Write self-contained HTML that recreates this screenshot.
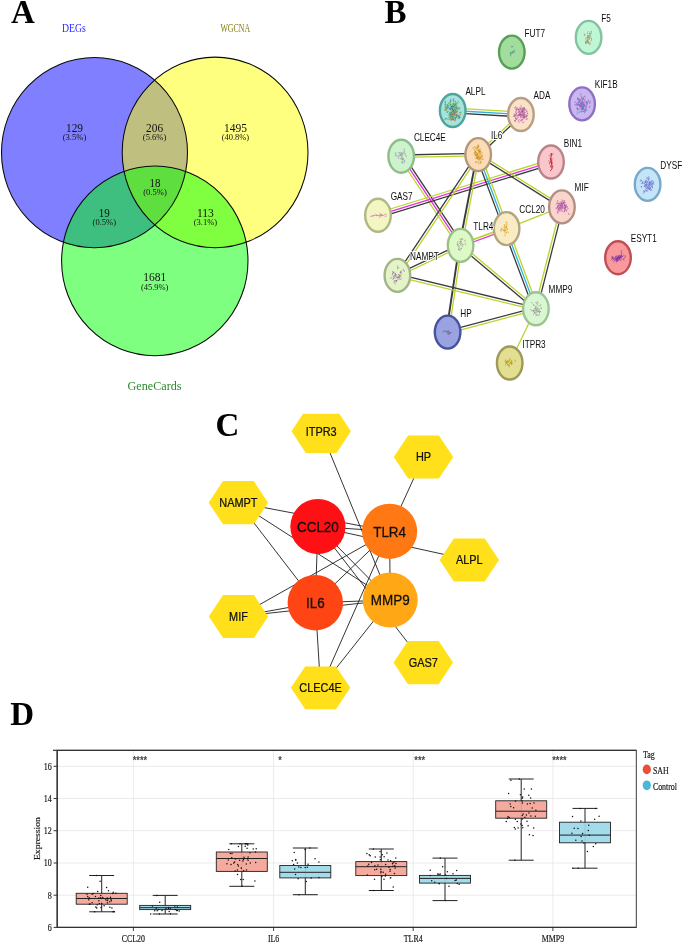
<!DOCTYPE html><html><head><meta charset="utf-8"><title>Figure</title><style>html,body{margin:0;padding:0;background:#fff}svg{display:block}text{font-family:"Liberation Sans",sans-serif}.s{font-family:"Liberation Serif",serif}.b{font-family:"Liberation Serif",serif;font-weight:bold;font-size:33px;fill:#000}</style></head><body>
<svg width="685" height="943" viewBox="0 0 685 943">
<rect width="685" height="943" fill="#fff"/>
<text class="b" x="11.0" y="22.8">A</text>
<text class="b" x="384.4" y="22.8">B</text>
<text class="b" x="215.5" y="435.7">C</text>
<text class="b" x="10.3" y="724.9">D</text>
<g id="venn">
<ellipse cx="94.5" cy="152.6" rx="93" ry="95.1" fill="#0000ff" fill-opacity="0.5"/>
<ellipse cx="215.1" cy="152.4" rx="92.9" ry="95.3" fill="#ffff00" fill-opacity="0.5"/>
<ellipse cx="154.8" cy="260.9" rx="93.2" ry="94.8" fill="#00ff00" fill-opacity="0.5"/>
<ellipse cx="94.5" cy="152.6" rx="93" ry="95.1" fill="none" stroke="#0a0a0a" stroke-width="1.05"/>
<ellipse cx="215.1" cy="152.4" rx="92.9" ry="95.3" fill="none" stroke="#0a0a0a" stroke-width="1.05"/>
<ellipse cx="154.8" cy="260.9" rx="93.2" ry="94.8" fill="none" stroke="#0a0a0a" stroke-width="1.05"/>
<text class="s" x="74" y="32.4" font-size="12" fill="#2a2aff" text-anchor="middle" textLength="23.8" lengthAdjust="spacingAndGlyphs">DEGs</text>
<text class="s" x="235.3" y="32.4" font-size="12" fill="#857d10" text-anchor="middle" textLength="29.8" lengthAdjust="spacingAndGlyphs">WGCNA</text>
<text class="s" x="154.5" y="390.3" font-size="12" fill="#2a8a2a" text-anchor="middle" textLength="54" lengthAdjust="spacingAndGlyphs">GeneCards</text>
<text class="s" x="74.5" y="132" font-size="12" fill="#111" text-anchor="middle" textLength="17" lengthAdjust="spacingAndGlyphs">129</text>
<text class="s" x="74.5" y="140.3" font-size="8" fill="#111" text-anchor="middle" textLength="23.5" lengthAdjust="spacingAndGlyphs">(3.5%)</text>
<text class="s" x="154.6" y="132" font-size="12" fill="#111" text-anchor="middle" textLength="17" lengthAdjust="spacingAndGlyphs">206</text>
<text class="s" x="154.6" y="140.3" font-size="8" fill="#111" text-anchor="middle" textLength="23.5" lengthAdjust="spacingAndGlyphs">(5.6%)</text>
<text class="s" x="235.4" y="132" font-size="12" fill="#111" text-anchor="middle" textLength="23" lengthAdjust="spacingAndGlyphs">1495</text>
<text class="s" x="235.4" y="140.3" font-size="8" fill="#111" text-anchor="middle" textLength="27.5" lengthAdjust="spacingAndGlyphs">(40.8%)</text>
<text class="s" x="155" y="187.1" font-size="12" fill="#111" text-anchor="middle" textLength="11" lengthAdjust="spacingAndGlyphs">18</text>
<text class="s" x="155" y="195.4" font-size="8" fill="#111" text-anchor="middle" textLength="23.5" lengthAdjust="spacingAndGlyphs">(0.5%)</text>
<text class="s" x="104.3" y="217" font-size="12" fill="#111" text-anchor="middle" textLength="11" lengthAdjust="spacingAndGlyphs">19</text>
<text class="s" x="104.3" y="225.3" font-size="8" fill="#111" text-anchor="middle" textLength="23.5" lengthAdjust="spacingAndGlyphs">(0.5%)</text>
<text class="s" x="205.4" y="217" font-size="12" fill="#111" text-anchor="middle" textLength="17" lengthAdjust="spacingAndGlyphs">113</text>
<text class="s" x="205.4" y="225.3" font-size="8" fill="#111" text-anchor="middle" textLength="23.5" lengthAdjust="spacingAndGlyphs">(3.1%)</text>
<text class="s" x="154.7" y="281.2" font-size="12" fill="#111" text-anchor="middle" textLength="23" lengthAdjust="spacingAndGlyphs">1681</text>
<text class="s" x="154.7" y="289.5" font-size="8" fill="#111" text-anchor="middle" textLength="27.5" lengthAdjust="spacingAndGlyphs">(45.9%)</text>
</g>
<g id="string">
<line x1="452.8" y1="108.1" x2="521.0" y2="112.1" stroke="#bad42c" stroke-width="1.3"/>
<line x1="452.7" y1="110.5" x2="520.9" y2="114.5" stroke="#2bb3e3" stroke-width="1.3"/>
<line x1="452.6" y1="112.9" x2="520.8" y2="116.9" stroke="#3a3a3a" stroke-width="1.3"/>
<line x1="521.7" y1="115.4" x2="479.0" y2="155.5" stroke="#3a3a3a" stroke-width="1.3"/>
<line x1="520.1" y1="113.6" x2="477.4" y2="153.7" stroke="#bad42c" stroke-width="1.3"/>
<line x1="478.2" y1="155.8" x2="401.2" y2="157.4" stroke="#bad42c" stroke-width="1.3"/>
<line x1="478.2" y1="153.4" x2="401.2" y2="155.0" stroke="#3a3a3a" stroke-width="1.3"/>
<line x1="403.2" y1="154.9" x2="462.6" y2="244.1" stroke="#3a3a3a" stroke-width="1.3"/>
<line x1="401.2" y1="156.2" x2="460.6" y2="245.4" stroke="#e02fe0" stroke-width="1.3"/>
<line x1="399.2" y1="157.5" x2="458.6" y2="246.7" stroke="#bad42c" stroke-width="1.3"/>
<line x1="551.7" y1="164.3" x2="378.7" y2="217.6" stroke="#3a3a3a" stroke-width="1.3"/>
<line x1="551.0" y1="162.0" x2="378.0" y2="215.3" stroke="#e02fe0" stroke-width="1.3"/>
<line x1="550.3" y1="159.7" x2="377.3" y2="213.0" stroke="#bad42c" stroke-width="1.3"/>
<line x1="479.2" y1="155.3" x2="398.4" y2="276.1" stroke="#bad42c" stroke-width="1.3"/>
<line x1="477.2" y1="153.9" x2="396.4" y2="274.7" stroke="#3a3a3a" stroke-width="1.3"/>
<line x1="461.8" y1="245.6" x2="448.8" y2="332.3" stroke="#bad42c" stroke-width="1.3"/>
<line x1="459.4" y1="245.2" x2="446.4" y2="331.9" stroke="#3a3a3a" stroke-width="1.9"/>
<line x1="479.4" y1="154.8" x2="461.8" y2="245.6" stroke="#bad42c" stroke-width="1.3"/>
<line x1="477.0" y1="154.4" x2="459.4" y2="245.2" stroke="#3a3a3a" stroke-width="1.9"/>
<line x1="480.4" y1="153.8" x2="538.1" y2="308.0" stroke="#bad42c" stroke-width="1.3"/>
<line x1="478.2" y1="154.6" x2="535.9" y2="308.8" stroke="#2bb3e3" stroke-width="1.3"/>
<line x1="476.0" y1="155.4" x2="533.7" y2="309.6" stroke="#3a3a3a" stroke-width="1.3"/>
<line x1="478.8" y1="153.6" x2="562.5" y2="205.9" stroke="#bad42c" stroke-width="1.3"/>
<line x1="477.6" y1="155.6" x2="561.3" y2="207.9" stroke="#3a3a3a" stroke-width="1.3"/>
<line x1="506.6" y1="228.6" x2="561.9" y2="206.9" stroke="#bad42c" stroke-width="1.3"/>
<line x1="507.0" y1="229.7" x2="461.0" y2="246.5" stroke="#e02fe0" stroke-width="1.3"/>
<line x1="506.2" y1="227.5" x2="460.2" y2="244.3" stroke="#bad42c" stroke-width="1.8"/>
<line x1="563.1" y1="207.2" x2="537.1" y2="309.1" stroke="#3a3a3a" stroke-width="1.3"/>
<line x1="560.7" y1="206.6" x2="534.7" y2="308.5" stroke="#bad42c" stroke-width="1.3"/>
<line x1="461.4" y1="244.5" x2="536.7" y2="307.9" stroke="#bad42c" stroke-width="1.3"/>
<line x1="459.8" y1="246.3" x2="535.1" y2="309.7" stroke="#3a3a3a" stroke-width="1.3"/>
<line x1="461.1" y1="246.5" x2="397.9" y2="276.5" stroke="#bad42c" stroke-width="1.3"/>
<line x1="460.1" y1="244.3" x2="396.9" y2="274.3" stroke="#3a3a3a" stroke-width="1.3"/>
<line x1="397.7" y1="274.2" x2="536.2" y2="307.6" stroke="#3a3a3a" stroke-width="1.3"/>
<line x1="397.1" y1="276.6" x2="535.6" y2="310.0" stroke="#bad42c" stroke-width="1.3"/>
<line x1="447.3" y1="330.9" x2="535.6" y2="307.6" stroke="#3a3a3a" stroke-width="1.3"/>
<line x1="447.9" y1="333.3" x2="536.2" y2="310.0" stroke="#bad42c" stroke-width="1.3"/>
<line x1="535.9" y1="308.8" x2="509.7" y2="363.0" stroke="#bad42c" stroke-width="1.3"/>
<ellipse cx="511.8" cy="52.1" rx="12.8" ry="16.5" fill="#a3dc9f" stroke="#57a054" stroke-width="2.4"/>
<path d="M511.1 53.7L510.1 52.2L511.3 53.1L511.1 54.1M514.2 50.5L514.5 49.8L514.1 51.3L514.8 52.5" fill="none" stroke="#2f7f8f" stroke-width="0.7" stroke-opacity="0.8" stroke-linejoin="round"/>
<path d="M511.3 52.2L512.4 51.3L513.3 52.3L512.2 51.8M512.4 53.4L512.7 53.0L513.6 52.4L512.7 52.8" fill="none" stroke="#2a6aa0" stroke-width="0.7" stroke-opacity="0.8" stroke-linejoin="round"/>
<path d="M513.1 47.1L512.3 46.1L511.8 47.3L511.8 45.7M510.8 56.3L510.5 55.1L511.1 55.0L510.2 53.3" fill="none" stroke="#3d9a5a" stroke-width="0.7" stroke-opacity="0.8" stroke-linejoin="round"/>
<ellipse cx="588.6" cy="37.4" rx="12.8" ry="16.5" fill="#bff7d6" stroke="#83c39d" stroke-width="2.4"/>
<path d="M587.8 41.1L587.4 40.1L588.1 38.7L587.2 39.1M585.1 34.0L584.4 35.5L584.7 34.3L583.8 33.8M590.9 41.4L591.2 40.7L591.5 39.1L591.3 37.4M587.5 41.5L587.8 41.8L587.5 41.8L586.6 40.4M589.6 43.7L589.9 42.6L590.2 43.9L589.7 45.2M588.3 42.0L587.6 42.0L588.2 43.3L589.1 43.6M589.7 37.3L588.9 38.5L590.1 38.7L589.0 39.1M588.3 36.6L588.3 37.2L588.9 37.4L588.4 36.9" fill="none" stroke="#a8703c" stroke-width="0.7" stroke-opacity="0.8" stroke-linejoin="round"/>
<path d="M589.8 35.4L590.0 34.0L590.9 33.0L592.0 33.2M587.9 38.0L588.4 37.8L587.5 36.4L587.4 37.5M589.5 36.5L590.2 35.3L590.3 36.7L589.5 36.4M588.1 40.7L588.4 41.0L588.8 42.5L588.5 42.8M589.1 35.0L588.3 36.1L587.9 35.5L587.0 35.1M586.9 42.1L586.6 40.8L585.7 41.5L585.3 42.2M586.6 42.4L585.7 43.8L585.5 42.2L586.7 43.4" fill="none" stroke="#8c6a4a" stroke-width="0.7" stroke-opacity="0.8" stroke-linejoin="round"/>
<path d="M588.8 39.2L588.2 40.3L587.6 41.4L587.0 41.4M589.5 34.1L589.7 32.6L589.0 33.7L589.0 33.7M591.3 30.9L591.6 32.1L590.8 31.6L591.3 31.1M588.1 34.1L587.2 32.8L588.4 31.4L588.4 32.1M585.0 38.2L586.1 38.2L586.2 39.2L585.3 40.4M588.4 37.0L587.3 37.3L587.4 38.1L586.9 37.1M585.9 42.2L587.1 41.8L587.7 41.7L586.8 43.2" fill="none" stroke="#b58a60" stroke-width="0.7" stroke-opacity="0.8" stroke-linejoin="round"/>
<ellipse cx="452.7" cy="110.5" rx="12.8" ry="16.5" fill="#a5e3dc" stroke="#4fa59d" stroke-width="2.4"/>
<path d="M452.7 108.7L452.4 110.0L452.8 109.2L453.4 109.3M449.7 111.8L450.9 112.3L449.9 112.7L448.7 113.6M452.3 109.6L452.1 108.4L452.2 109.0L452.5 108.9M458.5 101.5L458.4 102.0L457.7 101.4L457.8 101.4M454.2 106.4L454.3 107.0L454.8 108.2L455.5 109.4M453.9 107.7L453.2 106.2L453.1 105.5L452.0 104.3M452.3 102.8L452.9 103.4L454.1 103.8L453.3 105.2M450.7 110.7L449.7 109.9L449.6 109.4L448.9 109.0M455.0 108.2L455.1 107.1L455.2 107.2L455.4 107.8M459.7 112.5L460.7 112.3L461.3 112.6L460.7 111.7M455.0 105.0L456.2 103.8L457.1 102.9L457.6 102.1M456.2 111.5L455.6 111.0L454.5 111.1L454.8 111.8M452.3 116.8L452.8 115.7L452.3 114.6L453.2 115.6M445.7 119.5L445.7 118.5L444.5 119.4L443.6 120.6M456.2 109.2L456.1 107.7L456.8 108.6L457.9 107.9M453.0 107.7L452.0 106.1L451.9 106.5L451.8 107.8M445.7 103.8L444.7 105.1L445.7 105.6L445.7 104.2M456.0 117.0L456.7 115.9L455.9 117.6L456.9 117.6M445.7 110.1L445.8 109.2L446.5 109.2L446.3 107.6M456.7 106.4L456.4 106.2L456.4 105.7L455.5 105.3M458.9 109.4L458.8 108.5L458.6 108.7L458.9 107.2M456.5 109.0L456.8 107.6L457.6 107.9L457.5 107.5M450.4 105.0L450.0 104.0L449.9 104.2L451.2 104.5M450.2 116.0L450.7 115.6L450.1 114.1L450.3 112.9M448.5 114.8L448.7 115.0L448.8 115.0L448.4 115.3M459.4 117.4L458.4 118.2L459.4 118.6L460.7 117.0" fill="none" stroke="#2f9a4a" stroke-width="0.7" stroke-opacity="0.8" stroke-linejoin="round"/>
<path d="M452.5 108.4L453.1 107.8L452.1 109.4L453.2 110.8M446.5 112.0L447.6 112.5L447.2 111.5L446.9 112.6M458.6 109.1L459.3 108.1L459.1 108.2L459.0 108.8M455.1 103.3L455.7 102.4L455.1 104.0L455.5 105.4M458.8 115.0L459.6 116.7L459.3 117.8L459.5 116.7M450.1 108.6L449.9 108.4L450.7 109.2L450.0 110.0M456.8 112.8L456.1 112.3L456.2 111.6L455.2 110.1M455.8 114.7L457.1 115.8L457.1 114.5L455.8 114.9M446.9 104.9L447.9 104.9L447.1 104.8L446.8 106.1M449.4 102.3L450.2 101.6L450.5 101.1L449.9 101.0M455.7 113.1L456.9 111.4L457.1 112.1L457.2 110.6M451.3 117.0L450.9 117.9L450.3 116.4L449.2 115.8M457.3 115.0L456.7 114.4L456.4 115.7L457.4 116.2M454.3 106.4L455.0 105.0L454.1 104.3L453.3 102.8M445.7 106.8L444.7 107.3L444.8 107.1L445.6 107.1M453.3 107.3L453.1 106.4L453.6 106.6L452.7 107.6M459.6 115.7L458.4 116.6L457.2 115.8L458.3 115.7M450.4 107.1L449.9 106.8L450.4 107.2L451.2 108.6M452.2 108.8L451.0 109.2L449.7 109.1L450.0 109.0M451.6 113.1L451.8 111.5L452.2 110.0L453.4 110.3M452.1 114.4L452.0 114.5L451.2 115.5L452.0 115.1M451.3 117.0L452.0 116.1L452.9 117.3L453.6 116.8M455.4 108.9L456.5 108.8L457.0 110.3L457.6 110.7M452.3 115.0L451.7 115.2L451.5 115.8L451.5 114.6M449.4 112.8L449.9 114.2L450.5 115.9L451.3 117.1M447.6 119.5L447.5 118.9L446.3 118.4L445.2 118.6" fill="none" stroke="#2a8aa0" stroke-width="0.7" stroke-opacity="0.8" stroke-linejoin="round"/>
<path d="M451.4 109.0L451.9 107.8L451.1 107.0L451.4 107.2M448.1 107.6L448.0 106.2L448.4 105.4L447.5 105.2M455.8 109.7L454.6 109.8L454.5 108.8L454.4 109.4M453.6 107.1L453.1 105.6L452.1 106.3L452.1 105.3M445.7 102.7L444.9 103.3L445.3 102.4L445.3 100.8M453.4 111.7L453.9 110.2L452.7 111.5L451.5 112.5M450.3 112.5L451.2 113.7L451.6 113.7L451.7 114.0M452.9 112.4L453.1 112.8L454.2 113.2L453.5 111.5M451.8 119.5L451.7 119.8L450.5 118.9L450.9 119.2M453.7 101.5L453.2 100.0L453.6 98.7L454.2 98.7M453.7 119.5L454.1 118.0L455.2 117.5L455.4 118.5M453.3 115.3L454.0 113.8L453.5 113.0L453.7 113.5M451.8 113.6L451.0 114.6L450.8 114.8L451.4 113.2M450.4 101.5L451.1 100.1L450.5 99.7L451.1 99.1M445.7 108.3L446.9 107.4L446.9 107.2L447.9 108.7M452.0 107.0L450.9 106.3L452.1 106.9L450.8 106.8M452.5 108.2L453.0 109.5L453.6 110.7L453.3 109.6M454.9 117.0L455.3 118.6L455.6 120.1L454.5 120.4M449.7 108.3L450.5 109.0L449.5 108.2L448.3 107.2M453.5 119.5L453.2 119.2L451.9 118.3L451.7 119.8M454.1 112.3L454.8 112.7L454.5 112.1L453.4 110.5M453.9 119.5L453.2 120.0L452.4 118.4L453.2 116.8M451.0 106.4L450.2 105.3L450.4 104.9L449.9 105.0M451.2 112.4L452.0 112.9L452.7 114.4L453.2 114.9M458.9 115.9L458.0 116.4L459.0 117.5L459.9 118.2M456.2 113.6L455.2 112.7L454.4 114.2L454.7 115.7" fill="none" stroke="#3a5ac0" stroke-width="0.7" stroke-opacity="0.8" stroke-linejoin="round"/>
<path d="M451.1 108.0L451.6 107.3L452.9 108.9L453.0 109.9M452.4 113.9L452.0 114.5L453.1 114.5L452.7 113.0M455.7 107.5L456.7 108.0L456.2 106.7L455.3 106.3M457.5 110.8L458.3 109.4L459.5 107.8L460.3 108.5M449.6 103.6L450.6 103.1L450.1 102.0L451.4 100.8M454.8 107.7L453.6 106.5L452.8 104.9L453.8 103.3M451.3 115.0L452.3 116.0L451.9 117.4L451.7 116.0M450.5 105.0L451.0 105.3L450.5 104.0L451.4 103.4M453.7 113.0L454.2 114.0L454.3 113.2L453.7 112.7M446.7 110.3L446.4 108.6L446.1 108.1L446.9 109.5M458.8 113.6L459.8 112.0L459.9 112.1L460.2 113.2M452.1 116.0L452.3 117.5L453.3 119.0L453.0 118.3M455.3 106.6L454.9 105.1L454.7 103.9L455.6 105.6M452.0 112.4L451.2 114.0L451.0 114.3L451.0 115.6M454.4 105.6L453.9 104.6L454.6 104.7L454.7 105.9M454.0 115.7L453.7 117.1L453.4 116.7L452.8 116.3M448.8 114.6L449.8 114.9L451.0 116.2L450.7 117.6M456.0 108.5L456.6 108.5L455.8 109.7L455.0 111.1M458.4 103.6L457.8 103.8L456.6 104.0L455.7 105.5M449.5 103.0L448.9 104.3L448.3 103.1L449.4 102.3M449.6 116.8L449.8 117.5L448.6 118.0L449.0 116.4M454.3 106.4L454.5 105.6L454.8 105.9L453.7 104.6M448.4 105.4L447.4 106.5L446.2 106.8L445.1 107.7M446.9 108.3L448.1 108.2L447.3 106.8L447.0 107.0M455.2 105.0L454.4 105.8L454.9 104.7L455.3 103.9M451.4 112.9L452.0 113.7L451.8 112.1L452.6 110.9" fill="none" stroke="#58b040" stroke-width="0.7" stroke-opacity="0.8" stroke-linejoin="round"/>
<path d="M449.7 108.9L448.4 107.8L447.5 106.5L447.6 105.6M452.6 113.4L453.2 114.3L453.3 113.7L453.4 115.1M459.1 115.1L459.7 115.5L460.7 114.0L460.6 115.2M455.8 111.3L456.2 110.6L455.8 111.6L456.9 112.8M451.8 115.4L451.5 116.3L451.9 117.9L452.0 118.4M451.6 119.5L451.5 120.7L451.0 120.8L450.6 119.5M446.3 109.7L445.0 110.8L444.1 109.6L445.0 110.7M452.1 114.2L452.1 114.9L451.1 115.8L451.9 115.7M455.9 116.5L456.6 117.2L457.5 118.6L456.8 117.9M453.7 116.0L453.4 116.7L454.1 116.3L454.4 116.1M457.5 113.2L457.0 113.9L456.1 115.3L456.1 116.2M455.3 115.3L454.5 115.0L455.7 114.6L455.2 114.8M456.6 106.0L456.0 107.5L456.8 106.7L456.8 105.5M452.6 119.5L452.6 120.1L452.7 119.6L453.2 118.0M445.7 109.8L444.7 109.7L446.0 108.6L446.9 107.2M454.4 113.0L455.3 111.6L455.6 112.8L454.3 113.3M449.3 119.5L448.9 119.7L449.7 118.6L448.6 120.0M452.2 113.7L452.6 114.1L452.2 114.9L452.3 115.5M450.6 119.5L450.5 118.4L449.6 118.6L449.7 119.0M454.6 119.5L455.1 121.2L454.6 120.8L453.5 119.7M453.1 101.8L454.4 101.4L455.2 100.8L456.0 102.2M450.4 115.0L449.1 115.4L450.3 114.8L450.8 115.4M448.0 112.3L448.5 111.5L447.8 110.6L447.2 111.8M455.5 116.2L455.0 114.8L454.9 113.4L454.9 113.1M452.4 112.0L452.2 110.4L452.2 110.3L453.1 109.9M453.7 114.4L453.7 114.6L454.0 113.7L454.7 114.6" fill="none" stroke="#c07a30" stroke-width="0.7" stroke-opacity="0.8" stroke-linejoin="round"/>
<ellipse cx="520.9" cy="114.5" rx="12.8" ry="16.5" fill="#f9e2c8" stroke="#b89e84" stroke-width="2.4"/>
<path d="M525.1 115.8L524.2 117.4L523.5 118.3L524.5 116.8M521.0 120.7L521.2 120.1L522.4 118.9L521.2 119.8M515.5 111.4L516.5 110.3L516.5 110.8L515.5 112.3M515.1 121.5L515.0 120.8L516.0 120.5L516.4 118.8M523.3 116.0L522.5 114.9L521.6 114.6L522.3 114.1M519.1 111.9L519.5 113.3L520.2 115.0L520.7 114.2M521.7 117.0L521.8 116.9L520.9 116.4L519.9 116.9M524.0 107.5L525.0 108.9L523.7 108.3L524.5 109.6M523.2 116.7L523.6 115.7L523.7 115.2L523.3 115.9M524.2 116.5L524.9 117.1L526.2 116.1L526.6 116.3M514.5 115.2L515.0 115.4L513.9 116.9L513.7 116.3M521.5 112.1L522.1 110.7L522.9 111.9L523.0 110.9M517.5 114.9L517.5 116.1L518.3 116.8L519.2 117.0M524.3 121.5L523.3 122.8L522.5 122.7L523.0 122.9M516.0 115.3L516.0 115.6L515.8 114.2L516.7 112.7M524.3 110.6L523.6 110.7L523.3 110.5L522.2 109.3M523.8 110.1L522.5 108.6L523.6 108.6L523.7 107.5M519.9 115.5L521.0 116.8L521.3 117.9L521.2 117.9M513.9 114.5L514.8 115.4L513.8 115.5L514.8 117.2M518.3 110.5L519.0 109.4L519.4 110.4L518.6 110.2M526.1 116.8L526.8 115.3L526.2 114.7L526.9 116.1M519.1 111.4L520.1 111.6L520.4 112.5L519.8 113.5M520.9 116.1L521.8 115.5L521.6 113.9L522.8 115.5M519.9 113.2L519.8 114.2L520.7 114.9L520.6 113.3M515.3 116.0L515.6 115.4L516.2 115.3L515.0 116.7M520.7 112.8L520.3 112.8L520.8 112.0L521.7 110.5M522.4 111.9L523.3 110.4L524.5 109.2L524.2 107.7" fill="none" stroke="#b04aa0" stroke-width="0.7" stroke-opacity="0.8" stroke-linejoin="round"/>
<path d="M520.5 114.2L520.3 115.3L520.2 114.5L520.2 115.9M525.2 116.3L523.9 117.0L522.7 115.5L521.8 115.5M520.9 110.8L520.9 109.6L522.2 109.9L521.6 109.3M525.5 109.0L525.5 109.7L526.4 109.4L525.8 110.4M525.7 114.8L526.3 116.1L527.6 115.4L526.3 115.4M516.5 112.9L516.5 112.8L515.6 112.6L515.1 112.2M522.8 107.5L522.2 108.2L523.3 109.0L522.8 107.8M525.5 119.4L524.5 118.0L523.6 118.8L523.8 118.9M522.9 109.5L522.7 110.8L523.3 110.8L523.3 111.2M518.6 108.7L518.6 109.9L519.1 109.7L518.7 109.3M516.0 107.9L516.6 108.3L516.7 107.5L517.7 107.8M516.2 108.7L516.3 110.2L515.8 108.8L516.4 110.2M518.9 111.7L519.2 110.6L520.2 109.7L520.7 110.5M514.4 113.5L514.0 114.6L515.1 115.3L513.8 116.7M525.7 109.6L526.2 111.1L527.2 112.3L527.7 111.3M524.5 111.7L525.4 112.9L526.7 111.4L527.0 110.8M515.2 120.4L514.0 120.6L515.3 121.5L515.6 122.3M522.0 107.9L520.9 106.2L521.3 104.9L521.2 104.8M519.4 113.8L520.4 115.5L520.3 114.4L519.0 113.2M521.3 108.7L520.5 108.5L520.9 107.8L520.2 108.6M523.9 113.1L524.1 113.8L524.1 114.2L525.2 114.5M515.5 108.5L514.6 108.2L515.8 106.5L514.6 107.9M520.7 118.0L520.5 118.0L520.8 118.1L519.9 118.0M526.4 114.8L526.9 116.3L526.6 117.6L526.5 117.9M522.7 118.9L522.5 120.4L522.9 120.3L522.7 118.9M521.4 121.5L520.5 119.8L521.7 121.0L521.2 121.7M519.8 115.0L519.5 113.8L520.1 115.3L521.0 114.0" fill="none" stroke="#c060b0" stroke-width="0.7" stroke-opacity="0.8" stroke-linejoin="round"/>
<path d="M520.6 113.1L521.8 113.0L521.6 112.7L521.9 112.5M524.8 115.1L523.9 114.7L523.4 113.8L524.7 112.6M517.1 113.1L515.8 114.1L516.6 114.1L516.3 114.4M527.9 113.8L527.5 113.0L527.0 113.3L528.2 114.3M523.5 111.7L524.5 112.9L524.0 112.7L524.1 112.8M522.9 113.4L522.0 112.0L522.5 112.3L522.8 111.1M522.8 113.0L523.9 111.6L524.6 110.7L525.2 110.8M515.8 119.9L517.0 118.6L516.4 119.0L515.5 118.1M521.4 109.3L520.7 109.6L520.6 107.9L519.3 107.6M522.1 114.8L522.8 113.3L523.5 114.8L523.8 114.7M519.5 108.6L518.4 109.9L518.7 109.3L518.1 109.3M522.4 117.0L523.4 116.2L523.2 117.7L522.1 117.2M517.2 116.7L516.7 116.6L517.5 118.3L516.9 119.3M518.5 112.7L518.8 111.4L518.5 112.4L517.4 112.1M519.6 119.5L518.6 119.9L518.8 121.3L519.0 122.9M521.0 116.1L521.3 114.7L521.1 114.7L520.6 113.8M517.6 114.0L518.7 114.9L518.5 115.7L519.4 115.4M526.0 116.7L525.9 117.3L525.0 116.8L524.4 116.5M524.2 117.4L524.1 117.9L524.6 116.7L523.7 116.7M521.7 111.4L522.9 109.7L523.7 108.9L524.4 107.4M519.5 115.2L518.4 115.6L518.9 114.2L519.3 115.6M524.5 115.7L525.0 114.1L524.5 113.8L524.1 114.5M515.1 117.1L515.3 117.4L515.9 118.5L515.2 118.1M516.9 108.5L517.8 109.7L517.3 108.5L516.7 109.1M522.6 110.4L522.3 111.2L521.4 111.7L521.1 111.3M526.3 118.8L527.3 118.6L526.8 119.9L526.3 119.4" fill="none" stroke="#9a4a90" stroke-width="0.7" stroke-opacity="0.8" stroke-linejoin="round"/>
<ellipse cx="582.1" cy="103.9" rx="12.8" ry="16.5" fill="#cbb6f0" stroke="#8f6fc4" stroke-width="2.4"/>
<path d="M579.3 101.7L579.6 101.2L579.9 99.7L580.4 99.9M585.9 96.4L585.1 96.0L584.1 96.5L583.9 96.5M576.3 102.8L575.6 101.9L575.4 102.5L574.8 101.5M577.2 110.1L578.4 109.1L577.3 108.9L577.5 108.7M583.4 104.6L584.3 104.9L583.0 103.3L582.2 102.0M577.2 103.9L578.0 105.0L577.0 104.0L577.3 103.5M576.6 104.7L577.2 105.8L576.8 106.1L576.8 105.3M587.2 103.3L586.6 101.8L587.6 102.6L586.9 104.1M581.8 108.2L581.4 109.8L581.0 108.7L581.0 107.4M580.9 105.4L580.4 106.1L580.2 104.4L580.7 103.0M581.1 105.9L580.1 107.1L580.7 106.9L581.8 108.2M586.7 106.5L585.7 105.8L586.1 106.3L586.6 104.6M581.5 96.4L581.4 97.9L581.7 98.9L581.6 98.9M582.6 108.3L582.8 109.0L582.3 110.0L582.8 108.3M581.4 99.1L582.2 98.7L583.4 98.7L583.0 99.0M583.8 109.7L583.7 109.4L582.8 109.1L583.8 108.1M582.0 107.0L583.1 108.0L582.4 109.1L582.3 108.8M579.4 101.5L579.0 101.5L579.6 102.6L578.7 103.0M579.7 105.5L579.2 105.3L579.2 104.1L579.4 105.8M585.0 104.9L583.9 103.7L584.0 103.3L584.0 103.0" fill="none" stroke="#8a5ac8" stroke-width="0.7" stroke-opacity="0.8" stroke-linejoin="round"/>
<path d="M589.1 100.7L588.2 101.8L588.4 100.6L588.3 99.3M579.3 111.0L579.7 111.3L579.7 111.8L578.8 113.1M583.6 99.3L583.5 98.6L583.8 97.1L584.3 96.0M582.2 106.5L582.8 106.3L582.2 106.5L581.2 106.9M584.2 108.4L585.2 110.0L584.7 110.2L584.0 111.1M581.7 96.5L580.6 95.1L581.0 94.5L579.8 93.0M586.1 107.0L586.4 107.6L585.2 108.1L585.6 109.0M584.0 110.6L582.8 111.9L581.8 110.2L580.8 111.2M582.2 105.6L581.8 105.0L582.9 104.0L583.4 105.4M582.2 111.2L581.5 112.0L580.9 111.4L581.4 112.8M582.8 98.2L583.0 99.8L583.3 98.3L583.2 99.0M577.9 108.5L577.0 107.7L576.7 108.8L577.6 107.4M582.9 106.1L582.1 107.3L582.6 107.3L583.1 108.2M577.1 111.3L577.9 112.1L577.5 113.0L576.8 114.4M579.6 103.4L579.7 102.5L578.6 100.9L577.9 102.1M584.9 110.3L585.4 111.7L584.9 111.8L584.3 113.4M589.1 102.7L590.0 103.8L590.1 103.6L589.1 102.4M585.0 109.7L586.1 111.2L586.9 109.6L585.6 109.2M582.8 108.3L583.1 109.1L582.6 109.3L581.9 109.8M584.2 106.5L583.4 107.0L583.3 106.1L583.1 105.2" fill="none" stroke="#3a8ad0" stroke-width="0.7" stroke-opacity="0.8" stroke-linejoin="round"/>
<path d="M581.4 103.2L581.8 102.3L580.8 103.7L579.9 103.8M578.5 105.6L579.1 105.7L580.0 107.3L579.9 108.7M580.7 102.9L581.7 104.0L581.7 102.4L582.9 101.5M582.8 105.4L582.7 105.3L581.5 106.5L581.3 107.8M581.2 105.0L581.8 106.2L580.8 106.1L581.9 104.6M584.9 105.0L585.0 106.4L583.9 105.4L584.0 106.8M576.7 108.6L577.5 109.8L577.6 108.4L577.3 108.6M583.6 111.4L583.9 111.7L584.1 111.0L585.1 109.4M586.8 107.9L585.7 107.9L584.7 108.7L585.9 109.7M583.7 101.2L584.6 100.4L584.7 99.3L585.1 98.2M583.8 103.4L584.2 101.7L585.2 102.8L585.7 102.9M582.3 106.2L583.1 105.3L583.1 103.9L582.7 104.0M580.1 106.6L581.3 106.9L580.2 106.0L579.9 105.5M580.5 105.4L581.6 106.4L581.0 106.0L581.1 104.6M589.1 101.6L590.2 102.3L590.8 101.1L589.7 101.8M581.1 101.6L580.3 99.9L580.5 100.8L580.6 99.2M589.1 107.1L590.1 105.9L588.9 106.8L590.1 107.4M576.7 103.9L577.1 103.6L576.5 103.7L576.4 104.6M580.5 100.3L581.6 101.5L581.2 102.1L582.1 100.5M582.3 96.9L581.9 98.3L582.0 99.7L582.4 99.4" fill="none" stroke="#d05a8a" stroke-width="0.7" stroke-opacity="0.8" stroke-linejoin="round"/>
<path d="M578.5 102.7L578.1 103.5L579.2 105.0L578.6 105.2M582.2 104.1L583.5 102.6L582.3 101.7L581.9 101.7M584.0 109.2L583.3 108.6L582.7 106.9L582.9 108.4M581.8 104.0L581.3 103.6L581.0 105.2L582.2 105.2M586.5 104.6L587.7 103.9L586.4 103.9L586.8 102.3M585.9 105.7L584.7 106.9L584.9 105.9L585.3 105.5M584.2 111.4L583.7 111.9L583.8 111.5L584.2 112.4M577.3 99.4L577.9 97.7L577.8 98.4L577.7 97.9M579.0 109.0L579.2 109.7L579.1 109.6L578.3 109.6M580.1 102.3L580.9 103.2L581.0 104.6L581.7 105.6M578.3 101.7L579.0 102.8L578.3 102.4L577.3 103.7M583.1 99.8L582.4 101.2L582.6 101.7L581.8 103.2M578.7 98.9L579.3 100.6L580.1 100.3L580.1 100.1M584.9 101.6L586.0 100.7L587.0 102.0L586.2 102.3M582.7 103.7L583.7 104.7L584.2 104.7L584.2 103.8M575.1 104.7L575.1 104.4L575.3 105.3L576.5 103.9M583.7 107.5L583.2 107.2L583.6 105.8L584.2 104.9M579.9 99.1L578.9 98.6L577.9 99.9L578.1 99.0M580.0 101.4L578.8 100.1L577.6 98.6L577.9 97.9M580.2 106.5L579.6 106.0L578.9 105.0L577.9 104.2" fill="none" stroke="#5a6ad0" stroke-width="0.7" stroke-opacity="0.8" stroke-linejoin="round"/>
<ellipse cx="401.2" cy="156.2" rx="12.8" ry="16.5" fill="#cdf3cc" stroke="#8dbd8b" stroke-width="2.4"/>
<path d="M401.1 154.8L401.8 153.3L402.2 152.4L402.7 151.6M402.6 157.5L403.4 158.6L403.5 159.7L404.7 161.2M400.6 151.9L399.3 153.3L399.2 152.5L398.1 152.6M396.5 154.0L395.3 153.0L395.4 152.7L395.7 153.9M400.7 156.0L400.6 155.5L401.0 155.2L401.6 153.9M399.9 156.2L399.1 156.2L398.4 155.9L399.4 156.2M403.4 162.9L404.3 162.5L404.8 161.2L404.8 160.3M403.1 159.6L402.2 159.2L402.4 158.9L402.0 159.8M400.3 153.7L400.5 154.5L401.3 154.0L400.2 153.6" fill="none" stroke="#8a8aa8" stroke-width="0.7" stroke-opacity="0.8" stroke-linejoin="round"/>
<path d="M402.0 156.8L401.2 157.8L400.1 158.7L400.6 159.2M401.4 163.1L401.3 162.4L402.4 161.5L403.5 162.7M399.2 158.4L398.3 157.9L397.7 157.7L398.8 158.8M401.2 154.8L401.3 154.6L401.1 154.6L400.6 156.1M398.2 156.9L397.4 155.6L396.8 155.7L396.3 156.6M395.2 156.5L396.2 154.9L395.3 154.5L394.6 154.4M403.2 153.8L404.3 152.1L404.8 151.1L403.9 151.8M404.8 149.2L404.0 148.9L403.9 150.4L404.3 149.4" fill="none" stroke="#a090b8" stroke-width="0.7" stroke-opacity="0.8" stroke-linejoin="round"/>
<path d="M404.2 158.8L403.2 158.9L403.2 159.0L402.1 157.6M401.4 152.1L401.7 153.3L402.9 153.7L402.8 153.9M402.2 157.2L401.5 156.4L400.3 155.0L399.0 154.5M403.2 160.4L401.9 161.9L402.9 162.9L402.5 163.6M405.7 155.7L406.1 155.4L406.4 155.7L406.5 157.2M400.5 158.0L401.8 159.4L402.5 159.0L401.4 159.2M402.1 156.4L402.0 155.3L402.8 155.5L402.7 154.4M403.8 153.2L405.1 153.1L405.2 154.4L405.4 155.5" fill="none" stroke="#909090" stroke-width="0.7" stroke-opacity="0.8" stroke-linejoin="round"/>
<ellipse cx="478.2" cy="154.6" rx="12.8" ry="16.5" fill="#fbdcb8" stroke="#b5977a" stroke-width="2.4"/>
<path d="M480.5 156.1L480.9 156.5L480.5 158.1L481.4 156.7M476.2 152.8L475.4 152.1L474.1 152.4L474.7 153.1M476.6 155.4L477.1 155.3L476.3 154.4L475.8 154.4M479.5 150.4L480.4 150.8L480.4 151.6L479.3 152.3M480.0 150.5L480.3 149.7L479.8 148.2L480.4 148.5M476.7 155.1L478.0 153.5L477.1 153.4L475.8 152.7M482.2 158.6L482.1 159.8L483.0 158.5L483.2 160.1M479.1 151.3L479.5 152.8L480.7 154.1L479.5 152.8M477.1 152.5L477.4 152.9L478.0 154.2L477.4 154.8M477.0 146.1L476.0 147.5L474.8 147.3L475.3 148.2M480.4 153.2L481.1 153.4L481.2 154.0L480.8 155.1M475.7 149.5L474.7 150.4L474.3 149.4L473.4 148.1M479.4 157.6L478.8 157.0L479.7 157.5L479.5 159.2M479.4 154.0L480.4 155.6L480.5 157.0L481.1 157.7M477.5 146.1L477.0 145.7L478.2 145.6L479.3 146.2M476.0 161.0L475.5 162.5L475.8 162.0L475.8 163.3M477.0 154.6L476.4 156.1L477.1 157.5L477.9 158.1M476.4 149.6L477.0 150.5L477.7 150.6L478.1 150.1M478.9 158.4L478.6 158.4L477.7 159.3L476.6 158.9M475.0 146.1L473.9 147.7L472.6 148.2L472.2 148.4M477.3 148.9L478.0 148.2L477.7 147.6L477.8 146.8M474.3 154.0L475.2 152.4L475.7 151.4L474.7 152.6M478.3 154.3L477.7 155.4L476.5 155.2L477.4 155.9M481.7 155.4L482.0 156.2L481.9 157.5L481.5 158.6" fill="none" stroke="#d89a20" stroke-width="0.7" stroke-opacity="0.8" stroke-linejoin="round"/>
<path d="M475.9 153.8L475.9 153.8L475.8 153.1L475.2 152.9M477.0 153.5L476.8 153.3L475.5 154.5L476.3 154.0M475.3 156.5L476.2 155.4L476.6 155.7L475.8 155.7M482.2 152.4L482.4 153.3L481.9 152.5L480.9 151.0M477.8 153.3L478.3 152.4L478.4 153.7L479.4 154.7M475.6 150.7L476.2 152.3L475.9 153.3L475.4 154.7M478.3 158.5L478.8 157.5L478.5 157.6L478.4 155.9M480.3 163.1L481.2 162.2L481.1 163.0L479.9 164.4M479.6 152.5L480.3 152.3L479.6 150.9L480.0 151.3M478.1 146.1L478.1 147.3L478.6 147.8L478.8 146.7M478.5 146.1L477.5 147.2L477.7 147.8L478.1 146.7M480.9 160.2L480.7 158.7L480.2 159.0L479.6 158.4M480.3 162.9L480.2 162.8L480.9 161.9L481.1 162.5M476.8 158.3L477.5 156.7L477.2 156.8L476.8 155.7M475.5 153.8L475.0 155.0L474.4 154.7L474.6 153.2M479.6 157.9L480.0 159.0L478.8 157.8L479.4 158.6M479.0 156.9L479.6 156.7L479.8 156.3L479.7 157.7M475.7 154.6L475.6 154.7L474.6 153.3L473.5 154.0M477.2 156.5L476.1 156.8L476.6 157.5L477.2 157.7M475.3 153.3L475.2 152.8L474.5 153.3L475.5 154.9M477.1 150.9L477.5 150.2L478.1 150.3L477.0 149.1M475.8 162.3L476.2 161.5L477.0 162.2L477.7 161.1M478.6 158.1L478.7 158.7L478.4 158.2L477.8 158.2" fill="none" stroke="#e0a830" stroke-width="0.7" stroke-opacity="0.8" stroke-linejoin="round"/>
<path d="M475.7 152.4L476.2 152.2L477.2 153.7L477.0 153.9M478.9 151.5L479.4 151.1L478.7 151.0L478.4 150.9M477.4 153.8L477.7 155.0L477.3 154.6L476.4 155.8M479.0 151.6L479.0 149.9L479.2 149.6L478.3 150.8M482.2 154.9L482.0 156.2L482.4 155.2L482.6 155.9M476.8 157.4L476.0 157.9L475.4 158.6L476.2 158.6M480.7 152.1L480.6 151.7L479.5 151.7L480.2 153.4M480.4 158.8L479.3 157.8L480.5 157.8L481.3 158.1M476.0 148.4L476.5 148.6L475.8 148.7L476.7 148.2M480.3 157.5L480.1 158.9L478.9 160.0L478.0 160.2M475.7 152.2L474.9 151.0L474.6 150.9L475.8 151.5M478.0 162.2L478.9 163.3L478.6 162.7L478.7 163.5M479.5 151.9L479.9 151.7L479.5 151.9L479.0 151.2M477.1 159.1L477.3 157.5L477.7 158.3L478.9 159.9M478.9 146.2L478.3 144.7L478.1 145.6L478.7 146.7M479.1 150.6L479.5 152.1L479.5 151.7L480.0 150.1M478.7 155.2L478.2 156.3L479.2 156.2L479.1 155.7M478.0 148.8L477.2 148.0L478.2 146.6L477.7 147.9M476.8 156.2L477.8 157.1L477.8 158.8L477.4 157.2M480.9 161.6L480.0 160.7L480.4 162.3L480.1 161.1M478.4 148.8L478.3 149.2L478.0 150.1L477.8 150.2M475.2 154.9L475.9 155.2L475.0 155.5L476.2 155.3M477.9 157.8L476.8 156.9L477.9 156.8L478.7 156.4" fill="none" stroke="#c88a18" stroke-width="0.7" stroke-opacity="0.8" stroke-linejoin="round"/>
<ellipse cx="551" cy="162" rx="12.8" ry="16.5" fill="#f8c6cb" stroke="#b98389" stroke-width="2.4"/>
<path d="M551.3 160.8L551.7 161.8L552.5 162.7L551.3 162.0M551.6 162.1L552.3 163.8L551.3 162.9L551.9 164.1M551.4 161.1L550.8 159.7L551.8 158.5L551.6 159.3M550.4 163.1L549.2 162.9L549.8 163.9L549.0 164.1M550.6 155.1L551.7 155.5L552.7 154.6L553.6 153.5M551.5 163.1L550.7 161.8L551.5 161.8L552.2 162.2M551.9 168.0L551.2 167.8L550.0 166.3L550.8 167.0" fill="none" stroke="#c02a3a" stroke-width="0.7" stroke-opacity="0.8" stroke-linejoin="round"/>
<path d="M550.5 162.0L551.0 161.7L552.1 160.6L551.4 161.5M550.5 165.8L551.4 165.9L550.2 165.7L551.1 165.4M550.3 157.8L549.9 158.3L550.8 158.9L552.1 158.7M550.3 162.8L549.9 162.4L548.6 160.7L549.4 161.0M551.0 153.0L550.4 154.4L549.9 155.0L548.8 156.1M551.4 160.0L552.3 159.6L551.1 159.9L551.9 161.2M551.1 166.6L552.2 167.3L552.3 165.8L553.5 166.1" fill="none" stroke="#d04050" stroke-width="0.7" stroke-opacity="0.8" stroke-linejoin="round"/>
<ellipse cx="647.6" cy="184.4" rx="12.8" ry="16.5" fill="#c4e4f8" stroke="#79a9c8" stroke-width="2.4"/>
<path d="M646.0 181.4L646.0 181.2L644.9 181.5L645.1 181.3M647.8 185.1L649.1 185.4L649.0 184.5L648.4 185.6M645.1 190.9L644.2 191.7L643.7 191.4L643.5 190.3M644.7 190.9L644.7 191.6L644.2 192.6L642.9 193.7M646.9 190.3L646.8 190.6L646.4 190.4L647.1 189.5M652.8 182.4L653.6 181.6L653.5 182.7L653.4 183.9M646.4 188.6L647.6 187.3L648.8 188.2L647.8 187.8M646.7 184.0L646.9 184.6L646.3 183.2L645.2 181.7M650.3 189.3L650.0 188.6L648.9 188.8L649.0 187.4M652.9 185.8L651.9 185.4L652.4 186.4L651.9 186.4M647.7 187.7L647.3 187.3L646.0 188.4L647.2 188.3M645.1 181.4L645.5 182.8L646.1 181.2L645.4 179.8M646.8 178.4L647.1 179.3L647.4 177.7L646.4 177.2M641.5 187.4L641.8 186.0L641.0 187.1L641.4 187.2M642.8 182.8L641.9 182.9L642.5 182.5L641.3 183.8M648.7 183.9L649.8 184.3L648.8 183.1L648.1 182.6M648.7 182.6L649.8 182.6L650.6 181.7L651.6 180.7M645.5 185.4L644.7 186.6L644.9 187.2L644.8 187.4M649.2 189.8L649.5 188.4L649.0 188.8L649.7 189.5" fill="none" stroke="#6a5ac8" stroke-width="0.7" stroke-opacity="0.8" stroke-linejoin="round"/>
<path d="M648.6 177.9L649.3 179.2L649.0 177.7L648.7 176.0M645.9 185.7L646.8 185.7L645.8 184.5L645.5 185.5M642.1 181.2L641.1 180.0L640.3 180.1L640.9 179.5M649.1 189.0L650.2 188.8L650.3 187.7L650.8 189.0M648.3 187.7L647.6 186.0L648.1 186.0L647.1 186.6M648.4 179.3L648.2 179.7L648.6 179.9L648.6 179.8M650.1 183.3L649.0 181.8L649.9 181.1L649.5 182.4M644.4 185.8L645.0 186.0L644.5 185.1L645.2 184.3M647.4 189.6L646.5 191.3L647.2 191.0L648.3 190.8M650.3 190.7L650.2 189.7L651.5 190.5L652.0 188.9M644.9 184.4L644.3 183.0L643.4 183.2L642.4 182.5M652.7 182.8L651.9 182.5L650.7 183.8L650.0 183.5M646.6 184.5L647.0 183.8L647.1 185.1L646.1 183.6M649.9 183.2L650.8 184.3L650.9 185.3L650.5 185.2M644.6 190.9L645.5 190.8L645.8 189.5L645.3 189.2M651.3 186.1L651.5 186.6L651.1 185.6L650.3 184.9M643.8 181.4L644.0 181.7L643.9 181.9L644.5 182.1M651.8 182.6L651.9 184.2L653.1 183.3L654.1 184.9" fill="none" stroke="#7a6ad8" stroke-width="0.7" stroke-opacity="0.8" stroke-linejoin="round"/>
<path d="M650.1 184.6L650.0 183.9L649.4 182.5L650.3 182.5M649.9 182.6L651.1 182.6L651.3 181.6L650.9 181.9M650.2 186.1L649.8 187.1L649.1 185.4L649.7 184.0M642.8 182.8L642.5 183.1L643.1 182.7L642.0 183.5M649.5 189.8L649.5 188.4L650.7 188.1L650.7 187.0M645.0 184.8L645.6 184.5L644.7 183.8L644.9 184.1M648.5 181.2L648.5 179.8L648.7 178.3L648.2 178.0M646.5 186.0L645.5 187.5L644.8 186.6L645.1 185.2M650.9 185.1L652.0 183.8L652.3 183.7L652.2 184.9M642.3 181.6L641.2 180.4L640.8 181.1L639.8 181.9M651.5 187.3L652.8 187.8L651.7 186.4L652.6 187.2M647.3 188.6L648.6 187.6L648.8 185.9L650.1 184.3M646.8 180.2L646.9 181.3L647.3 181.9L647.5 180.9M649.1 184.3L649.4 184.3L649.5 183.6L650.1 183.0M646.5 184.2L646.8 185.0L645.8 186.5L645.3 185.2M647.2 187.5L647.9 188.2L648.6 188.8L648.3 188.3M651.3 181.7L652.5 180.1L652.1 180.9L652.3 181.7M647.3 183.3L647.3 181.7L646.6 183.4L646.1 183.0" fill="none" stroke="#5a7ad0" stroke-width="0.7" stroke-opacity="0.8" stroke-linejoin="round"/>
<ellipse cx="378" cy="215.3" rx="12.8" ry="16.5" fill="#f3f6c3" stroke="#b2b784" stroke-width="2.4"/>
<path d="M377.6 215.3L376.7 215.9L376.6 214.8L375.4 213.8M379.4 215.1L380.6 213.9L379.8 213.5L380.4 213.3M379.9 216.0L380.0 216.6L378.9 218.0L379.2 217.7M382.5 215.7L382.2 215.0L380.9 214.4L380.1 215.0" fill="none" stroke="#c86a9a" stroke-width="0.7" stroke-opacity="0.8" stroke-linejoin="round"/>
<path d="M386.0 215.7L386.8 215.9L385.7 216.4L384.4 216.6M382.5 215.5L381.2 215.6L382.0 215.6L381.6 216.0M381.5 215.5L380.7 215.8L381.5 214.3L382.7 214.2M373.8 216.0L374.0 215.2L372.9 215.7L372.7 217.2" fill="none" stroke="#d080a8" stroke-width="0.7" stroke-opacity="0.8" stroke-linejoin="round"/>
<ellipse cx="561.9" cy="206.9" rx="12.8" ry="16.5" fill="#f9d5cb" stroke="#b48f86" stroke-width="2.4"/>
<path d="M565.5 209.4L564.3 211.1L564.9 211.1L564.7 209.5M564.6 206.3L565.0 205.3L564.5 205.6L565.6 206.9M558.4 210.1L558.6 208.8L559.6 208.9L560.7 207.6M567.4 209.3L568.3 208.9L567.1 207.3L566.9 208.2M562.6 209.2L562.0 208.8L562.1 207.9L562.5 207.8M559.3 204.2L560.0 205.4L560.0 205.0L560.2 205.2M561.5 206.1L562.0 205.7L563.0 206.0L562.3 204.5M561.1 204.2L562.1 202.6L561.1 203.1L561.5 204.1M557.9 209.8L558.8 208.1L559.4 209.2L558.1 208.7M558.3 211.8L557.4 213.3L558.5 212.7L558.2 212.9M561.3 205.6L561.5 206.6L561.7 207.4L561.9 207.1M565.5 209.6L565.2 209.9L565.4 208.6L565.1 207.8M561.2 202.6L562.1 201.8L562.4 200.9L561.9 199.4M555.4 207.6L556.1 208.8L556.9 208.6L557.7 208.1M563.7 203.8L562.7 203.8L563.8 202.1L563.4 203.3M568.4 213.4L569.4 214.6L569.1 214.2L567.9 213.5M559.6 205.4L560.6 204.3L561.2 203.9L560.5 203.5M556.3 204.3L556.9 203.6L556.3 204.2L557.4 203.1M565.0 201.1L564.6 201.3L563.5 201.1L562.6 202.2M565.9 205.2L566.3 204.8L566.1 205.5L566.5 206.7" fill="none" stroke="#b04aa0" stroke-width="0.7" stroke-opacity="0.8" stroke-linejoin="round"/>
<path d="M557.9 205.5L558.5 205.7L559.7 205.0L559.4 206.6M562.3 203.8L562.2 202.6L561.0 204.1L560.3 203.8M558.6 205.6L557.8 205.9L557.9 207.3L556.7 206.9M560.1 211.3L559.0 210.1L559.3 210.7L559.8 211.7M564.8 205.8L564.5 204.5L563.9 205.9L563.5 205.6M559.8 209.5L559.6 209.3L558.8 210.3L560.1 210.7M562.0 207.1L561.2 208.4L560.8 209.6L560.3 209.3M562.9 208.0L562.1 207.7L562.5 207.1L563.4 206.7M560.9 210.1L560.9 209.0L560.1 207.9L559.2 207.0M560.5 204.9L560.5 205.7L561.3 204.5L561.7 205.8M564.5 208.0L564.5 209.3L563.8 208.1L565.1 207.4M560.9 207.6L561.7 207.8L561.8 207.6L561.1 206.4M560.8 206.8L560.3 207.9L561.6 209.6L562.1 211.2M561.7 206.1L562.1 204.8L563.0 203.3L564.1 204.6M558.8 204.0L559.8 203.8L559.9 202.8L560.6 201.2M564.8 200.4L563.9 201.3L564.3 200.4L564.5 201.1M557.4 202.9L558.7 204.5L559.5 203.0L558.5 204.3M557.6 208.2L558.1 206.7L557.4 207.1L558.6 208.2M557.4 204.0L558.1 202.4L558.0 202.6L556.9 203.9M557.5 201.6L556.9 201.3L557.6 201.1L557.6 200.1" fill="none" stroke="#c25ab0" stroke-width="0.7" stroke-opacity="0.8" stroke-linejoin="round"/>
<path d="M560.7 206.4L561.0 207.4L561.5 205.8L562.4 206.0M560.5 210.9L561.1 210.7L562.4 211.4L562.2 211.1M564.9 211.6L564.3 211.1L563.6 212.0L564.3 212.6M560.6 208.4L559.5 208.0L558.4 206.6L557.6 205.1M563.6 203.6L564.4 202.7L563.3 203.9L563.0 204.4M559.4 207.9L560.1 206.9L559.8 207.3L560.9 205.7M565.4 208.0L566.5 206.7L567.6 206.5L567.2 206.2M560.7 204.8L561.9 204.4L561.2 203.5L561.2 202.8M565.8 206.0L565.5 205.8L564.5 207.3L564.9 208.6M566.3 210.4L566.9 209.7L566.5 211.4L565.4 210.6M563.0 206.4L563.5 207.6L562.4 208.3L562.2 208.4M562.6 205.5L562.4 206.8L561.6 206.4L560.3 204.9M557.5 212.7L557.3 212.3L557.7 210.7L558.2 209.8M563.8 202.0L563.7 201.9L564.9 203.4L565.5 202.1M559.2 204.4L558.0 205.5L557.6 207.1L556.4 207.7M564.1 209.5L564.2 207.8L565.1 208.3L565.8 208.1M564.7 206.0L565.8 206.9L565.5 207.9L565.3 206.4M565.5 205.9L564.8 205.5L566.0 205.8L566.0 204.2M563.2 203.0L564.1 203.5L564.6 204.6L564.2 204.1M562.9 204.3L561.9 203.3L561.6 202.2L561.4 202.3" fill="none" stroke="#a050a8" stroke-width="0.7" stroke-opacity="0.8" stroke-linejoin="round"/>
<ellipse cx="506.6" cy="228.6" rx="12.8" ry="16.5" fill="#f9ecc4" stroke="#b3a57e" stroke-width="2.4"/>
<path d="M505.1 231.8L503.9 231.1L503.0 229.6L503.3 230.3M506.4 231.7L507.0 233.2L506.1 232.3L506.1 233.4M503.5 231.1L504.8 229.6L503.8 230.7L503.2 230.6M505.6 226.3L505.0 227.5L505.7 227.2L505.8 228.5M505.5 228.8L505.0 229.2L505.5 230.5L506.6 230.4M505.3 231.2L504.9 230.6L503.9 229.3L505.0 231.0" fill="none" stroke="#d89a20" stroke-width="0.7" stroke-opacity="0.8" stroke-linejoin="round"/>
<path d="M505.2 224.9L504.6 224.2L504.7 225.7L505.3 224.9M506.1 228.2L506.8 228.4L507.9 229.2L508.2 229.4M504.4 233.6L505.6 234.7L504.6 235.4L505.2 236.5M506.7 227.0L506.4 225.9L507.4 224.9L506.6 223.8M504.8 229.8L505.0 231.4L505.4 232.0L504.7 233.3M507.4 231.7L507.8 231.5L508.7 232.8L508.8 231.9" fill="none" stroke="#e0a828" stroke-width="0.7" stroke-opacity="0.8" stroke-linejoin="round"/>
<path d="M502.2 230.2L501.3 231.3L500.6 230.7L500.5 229.7M506.3 227.1L506.9 226.1L506.4 226.8L506.2 225.8M506.0 227.0L506.8 228.3L507.5 229.6L506.5 230.2M502.4 229.2L501.3 227.9L501.8 229.1L501.0 230.2M504.4 228.8L504.1 227.2L504.4 225.9L504.1 224.7M506.1 224.2L507.1 223.4L506.6 222.1L505.4 221.9" fill="none" stroke="#c89018" stroke-width="0.7" stroke-opacity="0.8" stroke-linejoin="round"/>
<ellipse cx="460.6" cy="245.4" rx="12.8" ry="16.5" fill="#ddf9c6" stroke="#9cc087" stroke-width="2.4"/>
<path d="M459.3 247.3L458.3 245.8L459.4 246.7L459.2 247.7M465.4 243.5L465.7 242.8L465.2 244.3L466.0 245.5M462.1 247.7L460.9 249.3L460.4 248.5L461.5 247.8M460.6 242.3L461.7 243.7L462.9 244.9L464.0 244.5M461.7 248.8L461.5 248.6L461.5 248.1L460.5 249.3M459.9 250.1L459.1 248.6L459.8 250.0L460.8 251.0M464.3 241.7L465.2 240.3L465.6 240.1L464.3 240.9" fill="none" stroke="#9aa090" stroke-width="0.7" stroke-opacity="0.8" stroke-linejoin="round"/>
<path d="M459.6 245.5L460.7 244.7L461.7 245.6L460.5 245.1M461.9 247.0L462.1 246.5L463.1 246.0L462.1 246.4M462.8 243.7L462.7 244.2L461.6 244.4L461.6 243.1M458.2 244.4L459.3 243.5L459.8 244.2L461.0 243.4M460.9 239.4L460.2 239.9L459.7 238.9L459.1 238.7M459.6 241.4L460.8 241.8L460.3 243.4L461.6 243.0M461.2 241.1L460.3 242.3L459.7 243.7L460.1 242.3" fill="none" stroke="#a8a8a0" stroke-width="0.7" stroke-opacity="0.8" stroke-linejoin="round"/>
<path d="M463.2 239.4L462.4 238.4L461.9 239.6L461.9 238.0M458.7 250.5L458.4 249.2L458.9 249.2L458.0 247.5M460.3 241.4L459.8 241.5L460.9 242.0L461.4 241.1M457.5 245.7L457.0 244.2L457.7 242.6L457.9 241.0M458.9 246.6L458.6 245.4L457.4 245.1L457.6 243.8M461.6 241.6L460.6 240.0L461.4 238.7L462.6 239.1" fill="none" stroke="#90988a" stroke-width="0.7" stroke-opacity="0.8" stroke-linejoin="round"/>
<ellipse cx="397.4" cy="275.4" rx="12.8" ry="16.5" fill="#e4f3c8" stroke="#a3b587" stroke-width="2.4"/>
<path d="M394.4 280.0L394.5 281.0L394.8 280.6L394.4 280.0M398.0 278.2L398.3 276.9L399.4 277.9L398.8 277.6M395.3 278.7L394.8 277.4L395.5 275.7L394.5 274.4M394.9 281.4L393.7 281.9L394.7 283.4L395.8 284.6M399.6 279.2L398.3 279.0L397.3 280.3L396.7 281.1M399.4 275.4L399.3 275.8L400.3 275.5L400.6 276.6M393.9 277.4L393.5 276.4L394.4 275.3L394.3 276.7M398.5 277.2L397.5 276.9L396.6 277.8L397.8 278.0M399.6 276.4L399.9 276.7L400.6 276.4L399.5 275.2M401.9 270.4L401.0 271.6L400.8 272.7L401.1 271.8" fill="none" stroke="#9a6a9a" stroke-width="0.7" stroke-opacity="0.8" stroke-linejoin="round"/>
<path d="M403.4 268.8L403.1 270.4L404.3 270.3L404.6 271.9M398.5 274.1L399.0 275.2L398.3 274.6L398.2 274.0M392.3 276.9L391.2 278.1L390.2 278.1L390.6 278.3M393.0 273.8L392.2 273.9L393.1 272.7L392.2 271.8M397.6 269.3L397.7 268.2L397.5 266.7L397.8 265.5M400.3 276.1L399.6 275.2L398.9 275.1L399.2 274.0M397.5 268.5L397.2 268.1L398.3 267.7L399.3 267.8M395.3 275.0L396.5 275.2L395.7 273.9L394.7 272.8M399.6 272.6L400.9 273.9L401.6 274.8L401.1 274.4M402.0 278.2L401.2 279.1L400.3 279.0L400.4 279.9" fill="none" stroke="#a878a8" stroke-width="0.7" stroke-opacity="0.8" stroke-linejoin="round"/>
<path d="M392.2 275.5L393.0 273.8L393.5 272.4L394.0 271.8M395.2 280.3L396.3 281.8L396.6 281.9L395.7 282.4M393.7 278.0L392.8 279.5L394.0 278.0L394.0 277.0M394.2 273.2L393.0 272.0L392.7 271.4L393.4 272.7M400.2 271.0L401.4 272.3L400.3 272.6L401.5 273.0M395.5 273.3L394.9 272.9L395.6 274.4L395.0 275.6M399.8 275.6L399.4 276.9L399.9 277.8L398.8 278.2M395.2 274.9L396.0 275.1L396.2 276.5L395.6 276.0M396.8 281.0L396.2 280.0L396.0 281.5L396.6 280.3M399.0 276.1L398.6 277.4L397.6 276.8L396.9 278.3" fill="none" stroke="#8a7090" stroke-width="0.7" stroke-opacity="0.8" stroke-linejoin="round"/>
<ellipse cx="618" cy="257.7" rx="12.8" ry="16.5" fill="#f9999b" stroke="#bf4f55" stroke-width="2.4"/>
<path d="M613.0 259.7L614.2 259.3L614.1 260.3L614.7 260.5M616.8 259.9L615.8 259.1L615.4 258.2L615.3 257.6M619.0 258.2L619.9 259.2L619.8 259.4L619.3 257.7M614.1 257.3L613.5 258.7L614.2 258.6L614.1 259.1M619.6 256.0L618.7 256.9L618.8 258.3L619.8 257.6M618.6 257.0L618.5 255.5L619.7 255.1L619.3 255.6M619.8 256.4L620.3 256.7L621.3 255.4L621.3 255.4M617.9 258.5L618.2 260.2L617.0 261.0L616.4 262.6M612.8 258.2L613.0 256.8L611.7 256.6L611.4 257.2M617.1 258.5L616.2 258.6L615.7 258.8L615.6 259.5M617.6 259.9L616.7 258.7L617.1 260.3L616.9 259.9" fill="none" stroke="#8a2aa0" stroke-width="0.7" stroke-opacity="0.8" stroke-linejoin="round"/>
<path d="M620.3 256.9L620.3 257.5L620.3 257.9L621.4 257.2M622.4 256.2L621.5 257.2L622.2 256.1L621.0 257.4M619.2 256.4L619.1 256.2L617.9 257.8L618.4 257.0M620.8 257.8L620.5 256.6L621.5 255.1L620.7 255.5M618.7 260.1L619.0 260.3L617.9 260.3L616.9 260.8M615.6 257.0L615.7 257.2L616.1 256.2L615.1 256.6M618.8 256.7L619.9 258.0L619.5 258.6L619.6 259.3M612.0 257.0L612.8 258.4L613.8 257.3L614.1 257.6M616.3 258.4L616.2 259.1L617.1 260.2L617.0 261.6M624.4 256.0L624.1 255.5L623.7 255.1L622.8 254.5M617.7 259.3L616.6 258.4L617.2 258.3L618.4 257.2" fill="none" stroke="#7030a8" stroke-width="0.7" stroke-opacity="0.8" stroke-linejoin="round"/>
<path d="M616.2 258.6L616.8 257.6L617.2 258.2L616.7 259.2M615.0 260.9L614.5 260.5L613.5 262.1L613.8 262.5M617.6 257.0L618.2 257.0L619.0 256.3L618.9 257.2M618.8 259.6L619.6 258.5L620.8 257.4L621.0 257.4M618.6 257.6L618.5 258.5L618.2 257.2L617.9 255.8M622.6 259.1L621.8 258.7L621.4 258.6L621.9 258.5M618.6 257.9L617.5 258.6L616.9 258.5L615.9 259.5M620.8 256.3L621.1 256.4L620.8 256.6L621.7 256.1M619.1 259.0L619.9 260.3L620.4 261.1L621.1 259.7M616.9 255.7L616.1 256.7L616.6 255.6L616.0 256.4M616.8 261.2L618.0 260.3L618.6 259.4L619.4 258.4" fill="none" stroke="#a03aa0" stroke-width="0.7" stroke-opacity="0.8" stroke-linejoin="round"/>
<path d="M617.2 257.4L617.2 258.4L617.9 257.3L619.1 256.1M622.8 256.7L622.4 256.1L621.8 255.7L620.9 255.3M618.1 258.5L617.5 256.9L618.1 257.8L617.3 256.8M624.5 258.4L624.6 257.7L625.9 256.1L625.2 255.7M620.1 256.9L621.4 255.8L620.8 255.6L620.5 254.7M621.7 254.2L621.5 252.7L621.0 251.8L622.2 250.1M616.7 259.6L616.3 261.0L615.5 260.5L615.8 261.2M614.7 259.2L615.6 257.8L616.0 259.3L616.3 259.0M624.2 258.8L623.5 258.7L623.1 259.1L624.2 260.5M621.3 256.6L620.6 258.1L620.7 257.6L619.5 259.1M611.5 257.9L612.7 258.1L611.5 259.7L612.5 260.7" fill="none" stroke="#6a2a98" stroke-width="0.7" stroke-opacity="0.8" stroke-linejoin="round"/>
<ellipse cx="535.9" cy="308.8" rx="12.8" ry="16.5" fill="#dbf6d3" stroke="#9cc494" stroke-width="2.4"/>
<path d="M533.5 311.8L533.7 311.8L535.0 312.9L535.0 311.8M535.4 309.0L536.2 309.5L537.5 308.4L538.3 308.7M534.0 304.4L532.9 305.0L534.1 305.1L535.3 306.3M538.7 308.5L539.6 309.6L538.7 311.2L537.5 312.4M540.0 306.2L540.7 304.7L540.6 305.2L539.8 305.3M539.6 313.1L539.4 312.6L540.2 311.4L540.4 312.0M532.4 310.7L531.3 311.0L531.2 310.2L530.3 309.0M536.5 310.3L537.4 310.1L537.8 309.4L537.4 309.9M536.1 309.8L536.6 309.5L536.1 310.2L536.3 310.1M537.2 311.8L538.2 311.5L539.1 311.5L538.2 310.1" fill="none" stroke="#8a9088" stroke-width="0.7" stroke-opacity="0.8" stroke-linejoin="round"/>
<path d="M536.3 309.7L537.5 310.6L536.5 311.8L537.8 311.3M535.0 308.0L534.8 309.1L535.7 308.6L535.0 308.0M535.2 302.3L536.5 303.2L536.4 304.2L537.1 302.6M536.2 310.4L537.2 309.1L537.8 307.5L538.4 308.6M535.0 308.7L535.2 308.4L534.4 308.7L535.4 309.1M536.3 311.1L535.8 310.9L535.8 309.5L537.0 309.9M531.9 302.8L531.2 302.4L531.3 302.0L532.5 303.6M537.9 303.8L537.5 304.9L537.9 305.1L539.0 306.3M536.7 301.8L537.9 303.3L538.1 302.3L537.2 301.0" fill="none" stroke="#9aa098" stroke-width="0.7" stroke-opacity="0.8" stroke-linejoin="round"/>
<path d="M539.8 311.8L539.4 312.8L540.2 311.1L539.6 312.6M535.6 315.8L536.9 315.4L535.6 313.9L535.1 314.1M535.4 311.1L534.6 310.7L535.2 310.7L534.1 310.6M540.6 307.7L541.6 307.8L540.9 308.9L540.5 308.3M534.7 312.1L534.6 313.0L533.5 314.6L534.0 314.5M536.0 306.5L536.1 308.2L535.5 307.1L536.2 305.8M533.0 311.2L533.4 309.9L532.9 311.1L534.2 311.6M536.7 311.6L535.6 313.2L535.8 313.5L536.6 314.0M539.6 314.4L539.0 315.6L538.2 314.3L537.2 315.2" fill="none" stroke="#80887c" stroke-width="0.7" stroke-opacity="0.8" stroke-linejoin="round"/>
<ellipse cx="447.6" cy="332.1" rx="12.8" ry="16.5" fill="#9aa2e2" stroke="#45539b" stroke-width="2.4"/>
<path d="M452.1 332.4L451.3 332.9L450.8 332.9L449.8 332.4M445.5 330.6L444.4 330.6L445.0 331.6L445.4 331.6M449.7 334.4L449.2 334.6L449.0 333.2L448.8 334.5M448.8 331.2L448.2 330.4L448.0 331.4L447.8 331.4M447.3 332.0L448.5 331.4L449.5 332.3L449.6 333.6" fill="none" stroke="#5a5a78" stroke-width="0.7" stroke-opacity="0.8" stroke-linejoin="round"/>
<path d="M445.8 332.3L446.1 331.9L446.4 332.2L447.1 330.6M447.6 331.5L446.7 332.1L445.8 331.7L445.8 331.5M449.3 333.7L449.5 332.6L448.6 332.8L448.1 331.5M443.1 331.2L443.2 331.8L443.8 331.0L442.7 332.4M447.6 332.3L447.6 333.2L448.3 332.7L447.6 334.4" fill="none" stroke="#6a6a88" stroke-width="0.7" stroke-opacity="0.8" stroke-linejoin="round"/>
<ellipse cx="509.7" cy="363" rx="12.8" ry="16.5" fill="#e2de92" stroke="#9c9a58" stroke-width="2.4"/>
<path d="M510.6 363.0L511.6 363.3L511.6 364.1L512.5 363.1M509.7 360.7L510.0 359.2L509.6 359.7L510.1 358.0M505.2 362.8L506.2 361.5L506.6 360.9L507.3 361.9M512.0 360.8L511.0 361.7L511.6 360.2L512.5 361.1M511.3 363.2L510.6 362.4L509.8 363.8L509.9 362.6M507.8 363.3L507.7 363.4L506.9 363.1L507.1 362.8M514.6 362.4L515.3 361.1L514.9 359.8L515.3 360.3" fill="none" stroke="#b89a18" stroke-width="0.7" stroke-opacity="0.8" stroke-linejoin="round"/>
<path d="M510.7 363.6L511.1 362.9L510.9 361.8L511.7 362.1M509.5 363.3L510.2 363.9L511.3 362.5L511.5 361.3M508.2 362.4L509.0 362.6L508.4 361.0L507.8 360.1M509.7 359.6L509.5 361.1L508.4 362.4L507.8 361.5M510.0 366.6L509.3 366.2L509.4 367.2L508.5 367.0M509.2 361.5L508.9 360.4L507.8 360.5L508.6 361.8M506.7 359.7L505.5 360.6L505.4 361.1L505.3 359.5" fill="none" stroke="#c8a820" stroke-width="0.7" stroke-opacity="0.8" stroke-linejoin="round"/>
<path d="M507.3 364.2L508.1 364.6L508.6 365.2L507.5 364.6M509.6 365.9L509.2 364.6L508.3 366.0L508.0 365.2M507.0 362.8L505.8 364.3L505.5 364.3L505.6 365.3M506.2 364.1L507.2 362.7L506.7 361.7L506.0 360.6M511.0 362.1L512.2 362.7L511.6 364.4L511.5 365.1M504.9 361.2L506.1 362.7L506.6 362.1L507.7 361.6" fill="none" stroke="#a88a10" stroke-width="0.7" stroke-opacity="0.8" stroke-linejoin="round"/>
<path d="M370.0 216.5Q375.0 214.5 379.0 215.6T386.5 213.8" fill="none" stroke="#c878a0" stroke-width="0.7"/>
<path d="M551.8 153.0Q549.5 159.0 551.5 164.0T550.0 171.0" fill="none" stroke="#c42a3a" stroke-width="1"/>
<text transform="translate(524.5,36.6) scale(0.79,1)" font-size="10.4" fill="#0c0c0c" stroke="#fff" stroke-width="2.2" stroke-linejoin="round" paint-order="stroke">FUT7</text>
<text transform="translate(601.3,21.9) scale(0.79,1)" font-size="10.4" fill="#0c0c0c" stroke="#fff" stroke-width="2.2" stroke-linejoin="round" paint-order="stroke">F5</text>
<text transform="translate(465.4,95.0) scale(0.79,1)" font-size="10.4" fill="#0c0c0c" stroke="#fff" stroke-width="2.2" stroke-linejoin="round" paint-order="stroke">ALPL</text>
<text transform="translate(533.6,99.0) scale(0.79,1)" font-size="10.4" fill="#0c0c0c" stroke="#fff" stroke-width="2.2" stroke-linejoin="round" paint-order="stroke">ADA</text>
<text transform="translate(594.8,88.4) scale(0.79,1)" font-size="10.4" fill="#0c0c0c" stroke="#fff" stroke-width="2.2" stroke-linejoin="round" paint-order="stroke">KIF1B</text>
<text transform="translate(413.9,140.7) scale(0.79,1)" font-size="10.4" fill="#0c0c0c" stroke="#fff" stroke-width="2.2" stroke-linejoin="round" paint-order="stroke">CLEC4E</text>
<text transform="translate(490.9,139.1) scale(0.79,1)" font-size="10.4" fill="#0c0c0c" stroke="#fff" stroke-width="2.2" stroke-linejoin="round" paint-order="stroke">IL6</text>
<text transform="translate(563.7,146.5) scale(0.79,1)" font-size="10.4" fill="#0c0c0c" stroke="#fff" stroke-width="2.2" stroke-linejoin="round" paint-order="stroke">BIN1</text>
<text transform="translate(660.3,168.9) scale(0.79,1)" font-size="10.4" fill="#0c0c0c" stroke="#fff" stroke-width="2.2" stroke-linejoin="round" paint-order="stroke">DYSF</text>
<text transform="translate(390.7,199.8) scale(0.79,1)" font-size="10.4" fill="#0c0c0c" stroke="#fff" stroke-width="2.2" stroke-linejoin="round" paint-order="stroke">GAS7</text>
<text transform="translate(574.6,191.4) scale(0.79,1)" font-size="10.4" fill="#0c0c0c" stroke="#fff" stroke-width="2.2" stroke-linejoin="round" paint-order="stroke">MIF</text>
<text transform="translate(519.3,213.1) scale(0.79,1)" font-size="10.4" fill="#0c0c0c" stroke="#fff" stroke-width="2.2" stroke-linejoin="round" paint-order="stroke">CCL20</text>
<text transform="translate(473.3,229.9) scale(0.79,1)" font-size="10.4" fill="#0c0c0c" stroke="#fff" stroke-width="2.2" stroke-linejoin="round" paint-order="stroke">TLR4</text>
<text transform="translate(410.1,259.9) scale(0.79,1)" font-size="10.4" fill="#0c0c0c" stroke="#fff" stroke-width="2.2" stroke-linejoin="round" paint-order="stroke">NAMPT</text>
<text transform="translate(630.7,242.2) scale(0.79,1)" font-size="10.4" fill="#0c0c0c" stroke="#fff" stroke-width="2.2" stroke-linejoin="round" paint-order="stroke">ESYT1</text>
<text transform="translate(548.6,293.3) scale(0.79,1)" font-size="10.4" fill="#0c0c0c" stroke="#fff" stroke-width="2.2" stroke-linejoin="round" paint-order="stroke">MMP9</text>
<text transform="translate(460.3,316.6) scale(0.79,1)" font-size="10.4" fill="#0c0c0c" stroke="#fff" stroke-width="2.2" stroke-linejoin="round" paint-order="stroke">HP</text>
<text transform="translate(522.4,347.5) scale(0.79,1)" font-size="10.4" fill="#0c0c0c" stroke="#fff" stroke-width="2.2" stroke-linejoin="round" paint-order="stroke">ITPR3</text>
</g>
<g id="hub">
<line x1="238.4" y1="502.7" x2="389.6" y2="531.3" stroke="#1e1e1e" stroke-width="0.9"/>
<line x1="238.4" y1="502.7" x2="390.2" y2="600" stroke="#1e1e1e" stroke-width="0.9"/>
<line x1="238.4" y1="502.7" x2="315.3" y2="602.7" stroke="#1e1e1e" stroke-width="0.9"/>
<line x1="317.9" y1="526.6" x2="389.6" y2="531.3" stroke="#1e1e1e" stroke-width="0.9"/>
<line x1="317.9" y1="526.6" x2="469.3" y2="560" stroke="#1e1e1e" stroke-width="0.9"/>
<line x1="317.9" y1="526.6" x2="423.3" y2="662.6" stroke="#1e1e1e" stroke-width="0.9"/>
<line x1="317.9" y1="526.6" x2="390.2" y2="600" stroke="#1e1e1e" stroke-width="0.9"/>
<line x1="317.9" y1="526.6" x2="315.3" y2="602.7" stroke="#1e1e1e" stroke-width="0.9"/>
<line x1="321.2" y1="431.3" x2="390.2" y2="600" stroke="#1e1e1e" stroke-width="0.9"/>
<line x1="423.5" y1="457" x2="389.6" y2="531.3" stroke="#1e1e1e" stroke-width="0.9"/>
<line x1="238.5" y1="616.5" x2="389.6" y2="531.3" stroke="#1e1e1e" stroke-width="0.9"/>
<line x1="238.5" y1="616.5" x2="315.3" y2="602.7" stroke="#1e1e1e" stroke-width="0.9"/>
<line x1="238.5" y1="616.5" x2="390.2" y2="600" stroke="#1e1e1e" stroke-width="0.9"/>
<line x1="315.3" y1="602.7" x2="389.6" y2="531.3" stroke="#1e1e1e" stroke-width="0.9"/>
<line x1="315.3" y1="602.7" x2="390.2" y2="600" stroke="#1e1e1e" stroke-width="0.9"/>
<line x1="389.6" y1="531.3" x2="390.2" y2="600" stroke="#1e1e1e" stroke-width="0.9"/>
<line x1="320.6" y1="687.8" x2="315.3" y2="602.7" stroke="#1e1e1e" stroke-width="0.9"/>
<line x1="320.6" y1="687.8" x2="389.6" y2="531.3" stroke="#1e1e1e" stroke-width="0.9"/>
<line x1="320.6" y1="687.8" x2="390.2" y2="600" stroke="#1e1e1e" stroke-width="0.9"/>
<polygon points="291.5,431.3 303.1,413.8 339.3,413.8 350.9,431.3 336.6,452.9 305.8,452.9" fill="#ffe01a"/>
<text transform="translate(321.2,435.6) scale(0.91,1)" font-size="12" fill="#111" stroke="#111" stroke-width="0.25" text-anchor="middle">ITPR3</text>
<polygon points="393.8,457.0 408.1,435.6 438.9,435.6 453.2,457.0 438.9,478.4 408.1,478.4" fill="#ffe01a"/>
<text transform="translate(423.5,461.3) scale(0.91,1)" font-size="12" fill="#111" stroke="#111" stroke-width="0.25" text-anchor="middle">HP</text>
<polygon points="208.7,502.7 223.0,481.1 253.8,481.1 268.1,502.7 253.8,524.3 223.0,524.3" fill="#ffe01a"/>
<text transform="translate(238.4,507.0) scale(0.91,1)" font-size="12" fill="#111" stroke="#111" stroke-width="0.25" text-anchor="middle">NAMPT</text>
<polygon points="439.6,560.0 453.9,538.6 484.7,538.6 499.0,560.0 484.7,581.4 453.9,581.4" fill="#ffe01a"/>
<text transform="translate(469.3,564.3) scale(0.91,1)" font-size="12" fill="#111" stroke="#111" stroke-width="0.25" text-anchor="middle">ALPL</text>
<polygon points="208.8,616.5 223.1,595.1 253.9,595.1 268.2,616.5 253.9,637.9 223.1,637.9" fill="#ffe01a"/>
<text transform="translate(238.5,620.8) scale(0.91,1)" font-size="12" fill="#111" stroke="#111" stroke-width="0.25" text-anchor="middle">MIF</text>
<polygon points="393.6,662.6 407.9,641.0 438.7,641.0 453.0,662.6 438.7,684.2 407.9,684.2" fill="#ffe01a"/>
<text transform="translate(423.3,666.9) scale(0.91,1)" font-size="12" fill="#111" stroke="#111" stroke-width="0.25" text-anchor="middle">GAS7</text>
<polygon points="290.9,687.8 305.2,666.4 336.0,666.4 350.3,687.8 336.0,709.2 305.2,709.2" fill="#ffe01a"/>
<text transform="translate(320.6,692.1) scale(0.91,1)" font-size="12" fill="#111" stroke="#111" stroke-width="0.25" text-anchor="middle">CLEC4E</text>
<circle cx="317.9" cy="526.6" r="27.6" fill="#ff1014"/>
<text transform="translate(317.9,531.9) scale(0.91,1)" font-size="14.8" fill="#111" stroke="#111" stroke-width="0.3" text-anchor="middle">CCL20</text>
<circle cx="389.6" cy="531.3" r="27.6" fill="#ff7814"/>
<text transform="translate(389.6,536.6) scale(0.91,1)" font-size="14.8" fill="#111" stroke="#111" stroke-width="0.3" text-anchor="middle">TLR4</text>
<circle cx="315.3" cy="602.7" r="27.7" fill="#ff4514"/>
<text transform="translate(315.3,608.0) scale(0.91,1)" font-size="14.8" fill="#111" stroke="#111" stroke-width="0.3" text-anchor="middle">IL6</text>
<circle cx="390.2" cy="600" r="27.5" fill="#ffa714"/>
<text transform="translate(390.2,605.3) scale(0.91,1)" font-size="14.8" fill="#111" stroke="#111" stroke-width="0.3" text-anchor="middle">MMP9</text>
</g>
<g id="box">
<line x1="57.2" x2="636.3" y1="895.2" y2="895.2" stroke="#e6e6e6" stroke-width="0.8"/>
<line x1="57.2" x2="636.3" y1="863.0" y2="863.0" stroke="#e6e6e6" stroke-width="0.8"/>
<line x1="57.2" x2="636.3" y1="830.7" y2="830.7" stroke="#e6e6e6" stroke-width="0.8"/>
<line x1="57.2" x2="636.3" y1="798.5" y2="798.5" stroke="#e6e6e6" stroke-width="0.8"/>
<line x1="57.2" x2="636.3" y1="766.3" y2="766.3" stroke="#e6e6e6" stroke-width="0.8"/>
<line x1="133.4" x2="133.4" y1="750.3" y2="927.4" stroke="#e6e6e6" stroke-width="0.8"/>
<line x1="273.6" x2="273.6" y1="750.3" y2="927.4" stroke="#e6e6e6" stroke-width="0.8"/>
<line x1="413.2" x2="413.2" y1="750.3" y2="927.4" stroke="#e6e6e6" stroke-width="0.8"/>
<line x1="552.9" x2="552.9" y1="750.3" y2="927.4" stroke="#e6e6e6" stroke-width="0.8"/>
<line x1="101.7" x2="101.7" y1="875.5" y2="911.8" stroke="#222" stroke-width="1"/>
<line x1="89.2" x2="114.2" y1="875.5" y2="875.5" stroke="#222" stroke-width="1"/>
<line x1="89.2" x2="114.2" y1="911.8" y2="911.8" stroke="#222" stroke-width="1"/>
<rect x="76.2" y="893.3" width="51" height="10.9" fill="#f4a396" fill-opacity="0.92" stroke="#222" stroke-width="0.9"/>
<line x1="76.2" x2="127.2" y1="898.5" y2="898.5" stroke="#222" stroke-width="1"/>
<path d="M104.1 905.7h0.01M114.4 911.8h0.01M100.7 895.6h0.01M93.4 893.6h0.01M95.4 896.5h0.01M115.8 893.2h0.01M88.8 899.7h0.01M109.8 901.8h0.01M97.7 891.4h0.01M105.8 899.8h0.01M98.8 900.7h0.01M95.8 906.9h0.01M90.0 904.0h0.01M106.6 887.4h0.01M113.2 892.2h0.01M99.4 903.4h0.01M98.8 898.0h0.01M100.6 897.7h0.01M102.8 897.5h0.01M107.8 899.9h0.01M87.0 894.2h0.01M87.7 896.6h0.01M92.1 902.8h0.01M107.2 900.4h0.01M108.5 890.8h0.01M101.0 907.5h0.01M101.7 903.5h0.01M112.8 893.5h0.01M107.4 898.1h0.01M89.2 897.7h0.01M87.7 887.3h0.01M113.0 911.8h0.01M111.9 907.9h0.01M109.9 907.2h0.01M111.0 899.7h0.01M92.1 894.2h0.01M110.5 897.2h0.01M100.1 881.3h0.01M113.4 911.6h0.01M113.2 911.8h0.01M96.8 907.9h0.01M107.4 902.7h0.01M97.2 904.7h0.01M111.4 900.8h0.01M89.4 904.2h0.01M96.4 875.5h0.01M94.7 911.8h0.01" stroke="#111" stroke-width="1.5" stroke-linecap="round" fill="none"/>
<line x1="165.2" x2="165.2" y1="895.4" y2="914.0" stroke="#222" stroke-width="1"/>
<line x1="152.7" x2="177.7" y1="895.4" y2="895.4" stroke="#222" stroke-width="1"/>
<line x1="152.7" x2="177.7" y1="914.0" y2="914.0" stroke="#222" stroke-width="1"/>
<rect x="139.7" y="905.4" width="51" height="4.2" fill="#9bd8e8" fill-opacity="0.92" stroke="#222" stroke-width="0.9"/>
<line x1="139.7" x2="190.7" y1="907.7" y2="907.7" stroke="#222" stroke-width="1"/>
<path d="M150.7 914.0h0.01M152.4 906.1h0.01M157.2 910.7h0.01M170.4 913.7h0.01M159.7 902.2h0.01M156.2 908.3h0.01M170.4 908.2h0.01M174.8 906.1h0.01M179.2 910.9h0.01M166.0 908.8h0.01M169.2 911.4h0.01M176.7 910.5h0.01M168.4 907.5h0.01M158.6 909.5h0.01M175.3 909.5h0.01M177.4 906.9h0.01M168.5 908.5h0.01M154.7 910.7h0.01M162.0 910.6h0.01M177.4 910.4h0.01M156.9 895.4h0.01M159.4 914.0h0.01" stroke="#111" stroke-width="1.5" stroke-linecap="round" fill="none"/>
<line x1="241.8" x2="241.8" y1="843.8" y2="886.3" stroke="#222" stroke-width="1"/>
<line x1="229.3" x2="254.3" y1="843.8" y2="843.8" stroke="#222" stroke-width="1"/>
<line x1="229.3" x2="254.3" y1="886.3" y2="886.3" stroke="#222" stroke-width="1"/>
<rect x="216.3" y="852.0" width="51" height="19.4" fill="#f4a396" fill-opacity="0.92" stroke="#222" stroke-width="0.9"/>
<line x1="216.3" x2="267.3" y1="858.5" y2="858.5" stroke="#222" stroke-width="1"/>
<path d="M247.4 858.8h0.01M247.8 844.9h0.01M248.1 860.3h0.01M243.2 879.5h0.01M231.7 857.8h0.01M237.4 870.0h0.01M231.0 864.4h0.01M255.5 851.9h0.01M245.3 843.8h0.01M244.0 857.3h0.01M242.9 861.1h0.01M255.7 862.6h0.01M246.5 870.1h0.01M231.3 843.8h0.01M232.0 853.4h0.01M245.2 846.2h0.01M228.3 860.1h0.01M235.7 859.0h0.01M243.6 870.7h0.01M250.0 852.8h0.01M250.3 863.0h0.01M241.2 868.0h0.01M226.9 863.7h0.01M235.1 871.1h0.01M240.7 879.5h0.01M238.4 866.1h0.01M237.5 874.6h0.01M247.8 843.8h0.01M246.2 864.0h0.01M230.3 853.5h0.01M256.2 848.8h0.01M254.9 880.9h0.01M245.9 843.8h0.01M248.1 856.9h0.01M246.5 843.8h0.01M228.8 849.5h0.01M241.3 868.2h0.01M234.6 862.0h0.01M237.7 864.5h0.01M239.6 860.2h0.01M253.2 848.9h0.01M243.5 859.4h0.01M233.7 863.0h0.01M247.1 848.2h0.01M238.4 846.5h0.01M240.0 843.8h0.01M242.1 886.3h0.01" stroke="#111" stroke-width="1.5" stroke-linecap="round" fill="none"/>
<line x1="305.3" x2="305.3" y1="848.0" y2="894.7" stroke="#222" stroke-width="1"/>
<line x1="292.8" x2="317.8" y1="848.0" y2="848.0" stroke="#222" stroke-width="1"/>
<line x1="292.8" x2="317.8" y1="894.7" y2="894.7" stroke="#222" stroke-width="1"/>
<rect x="279.8" y="865.5" width="51" height="12.4" fill="#9bd8e8" fill-opacity="0.92" stroke="#222" stroke-width="0.9"/>
<line x1="279.8" x2="330.8" y1="872.3" y2="872.3" stroke="#222" stroke-width="1"/>
<path d="M295.8 860.3h0.01M298.8 867.0h0.01M295.5 874.4h0.01M295.8 859.6h0.01M307.3 867.2h0.01M315.0 858.8h0.01M318.9 862.0h0.01M305.1 849.4h0.01M298.1 878.8h0.01M294.7 868.9h0.01M294.2 852.5h0.01M300.9 867.4h0.01M318.9 877.5h0.01M305.2 867.6h0.01M308.0 864.3h0.01M292.3 860.7h0.01M311.2 877.9h0.01M306.2 881.6h0.01M293.6 864.6h0.01M297.4 863.0h0.01M309.9 848.0h0.01M298.9 894.7h0.01" stroke="#111" stroke-width="1.5" stroke-linecap="round" fill="none"/>
<line x1="381.3" x2="381.3" y1="849.0" y2="890.5" stroke="#222" stroke-width="1"/>
<line x1="368.8" x2="393.8" y1="849.0" y2="849.0" stroke="#222" stroke-width="1"/>
<line x1="368.8" x2="393.8" y1="890.5" y2="890.5" stroke="#222" stroke-width="1"/>
<rect x="355.8" y="861.6" width="51" height="14.0" fill="#f4a396" fill-opacity="0.92" stroke="#222" stroke-width="0.9"/>
<line x1="355.8" x2="406.8" y1="866.7" y2="866.7" stroke="#222" stroke-width="1"/>
<path d="M380.7 869.2h0.01M393.0 866.3h0.01M374.8 869.7h0.01M384.0 879.2h0.01M394.8 865.8h0.01M385.6 874.3h0.01M390.7 877.8h0.01M393.2 862.8h0.01M366.9 853.5h0.01M384.1 856.8h0.01M390.2 869.5h0.01M370.2 855.8h0.01M380.1 856.9h0.01M392.5 863.8h0.01M388.0 860.1h0.01M378.0 865.0h0.01M367.8 865.9h0.01M374.5 879.2h0.01M380.3 859.7h0.01M380.1 851.6h0.01M369.2 854.8h0.01M396.0 863.6h0.01M395.2 868.0h0.01M375.2 857.0h0.01M385.6 864.4h0.01M390.6 860.7h0.01M394.7 861.8h0.01M395.8 858.0h0.01M368.7 864.3h0.01M383.2 872.3h0.01M390.0 871.3h0.01M389.0 867.3h0.01M374.9 865.7h0.01M382.0 876.2h0.01M382.2 854.8h0.01M385.3 876.0h0.01M390.3 877.9h0.01M394.5 873.5h0.01M380.8 872.8h0.01M367.3 875.0h0.01M393.2 887.0h0.01M386.9 853.0h0.01M371.5 862.6h0.01M381.0 871.4h0.01M376.7 869.3h0.01M373.4 849.0h0.01M373.9 890.5h0.01" stroke="#111" stroke-width="1.5" stroke-linecap="round" fill="none"/>
<line x1="445.0" x2="445.0" y1="858.1" y2="900.6" stroke="#222" stroke-width="1"/>
<line x1="432.5" x2="457.5" y1="858.1" y2="858.1" stroke="#222" stroke-width="1"/>
<line x1="432.5" x2="457.5" y1="900.6" y2="900.6" stroke="#222" stroke-width="1"/>
<rect x="419.5" y="875.4" width="51" height="7.7" fill="#9bd8e8" fill-opacity="0.92" stroke="#222" stroke-width="0.9"/>
<line x1="419.5" x2="470.5" y1="878.4" y2="878.4" stroke="#222" stroke-width="1"/>
<path d="M446.5 878.4h0.01M459.1 884.2h0.01M456.7 870.6h0.01M439.3 883.7h0.01M455.1 880.6h0.01M442.7 866.8h0.01M437.7 873.9h0.01M457.2 883.4h0.01M431.7 880.8h0.01M440.3 874.1h0.01M447.4 871.7h0.01M453.0 873.7h0.01M438.9 874.3h0.01M430.2 875.5h0.01M456.3 880.0h0.01M434.8 882.2h0.01M430.2 870.2h0.01M449.0 886.2h0.01M445.5 875.0h0.01M439.0 883.6h0.01M440.3 858.1h0.01M445.2 900.6h0.01" stroke="#111" stroke-width="1.5" stroke-linecap="round" fill="none"/>
<line x1="521.2" x2="521.2" y1="779.0" y2="860.2" stroke="#222" stroke-width="1"/>
<line x1="508.70000000000005" x2="533.7" y1="779.0" y2="779.0" stroke="#222" stroke-width="1"/>
<line x1="508.70000000000005" x2="533.7" y1="860.2" y2="860.2" stroke="#222" stroke-width="1"/>
<rect x="495.70000000000005" y="800.8" width="51" height="17.4" fill="#f4a396" fill-opacity="0.92" stroke="#222" stroke-width="0.9"/>
<line x1="495.70000000000005" x2="546.7" y1="811.2" y2="811.2" stroke="#222" stroke-width="1"/>
<path d="M509.2 817.5h0.01M530.1 803.5h0.01M529.4 834.8h0.01M532.2 808.1h0.01M535.3 816.3h0.01M515.5 800.9h0.01M510.1 804.1h0.01M526.4 815.1h0.01M508.6 793.4h0.01M528.1 825.8h0.01M506.3 821.6h0.01M508.0 816.8h0.01M522.8 827.8h0.01M530.9 816.1h0.01M531.4 789.1h0.01M529.0 813.0h0.01M522.2 825.6h0.01M524.9 817.3h0.01M528.8 795.2h0.01M510.9 780.3h0.01M507.4 818.6h0.01M523.1 814.1h0.01M534.0 803.1h0.01M527.0 821.3h0.01M533.0 835.4h0.01M514.3 827.4h0.01M522.1 798.3h0.01M522.7 796.9h0.01M515.3 829.1h0.01M527.4 804.1h0.01M510.8 806.4h0.01M522.1 801.1h0.01M513.6 807.8h0.01M520.9 824.1h0.01M530.7 798.1h0.01M535.9 810.2h0.01M524.2 789.0h0.01M533.7 828.1h0.01M522.4 802.9h0.01M522.4 819.0h0.01M522.3 815.6h0.01M518.1 827.9h0.01M520.4 794.8h0.01M517.3 821.5h0.01M515.4 819.3h0.01M519.3 779.0h0.01M514.9 860.2h0.01" stroke="#111" stroke-width="1.5" stroke-linecap="round" fill="none"/>
<line x1="585.0" x2="585.0" y1="808.4" y2="868.2" stroke="#222" stroke-width="1"/>
<line x1="572.5" x2="597.5" y1="808.4" y2="808.4" stroke="#222" stroke-width="1"/>
<line x1="572.5" x2="597.5" y1="868.2" y2="868.2" stroke="#222" stroke-width="1"/>
<rect x="559.5" y="822.2" width="51" height="20.6" fill="#9bd8e8" fill-opacity="0.92" stroke="#222" stroke-width="0.9"/>
<line x1="559.5" x2="610.5" y1="835.1" y2="835.1" stroke="#222" stroke-width="1"/>
<path d="M571.9 833.2h0.01M588.7 825.3h0.01M581.1 836.5h0.01M594.7 819.2h0.01M577.9 828.6h0.01M572.9 868.2h0.01M599.1 816.3h0.01M589.3 835.2h0.01M593.3 846.6h0.01M572.5 816.4h0.01M587.4 851.4h0.01M582.0 840.9h0.01M582.6 833.5h0.01M575.8 840.3h0.01M583.9 843.0h0.01M595.9 808.4h0.01M595.7 843.7h0.01M580.9 820.9h0.01M574.2 828.2h0.01M588.3 830.5h0.01M580.2 808.4h0.01M578.2 868.2h0.01" stroke="#111" stroke-width="1.5" stroke-linecap="round" fill="none"/>
<rect x="57.2" y="750.3" width="579.1" height="177.1" fill="none" stroke="#333" stroke-width="0.95"/>
<path d="M57.2 750.3V927.4H636.3" fill="none" stroke="#333" stroke-width="1.35"/>
<line x1="57.2" x2="636.3" y1="750.3" y2="750.3" stroke="#333" stroke-width="1.25"/>
<line x1="53.0" x2="57.2" y1="750.3" y2="750.3" stroke="#333" stroke-width="1.2"/>
<line x1="53.6" x2="57.2" y1="927.4" y2="927.4" stroke="#333" stroke-width="1"/>
<text class="s" transform="translate(51.8,930.8) scale(0.78,1)" font-size="10.3" fill="#1a1a1a" stroke="#1a1a1a" stroke-width="0.2" text-anchor="end">6</text>
<line x1="53.6" x2="57.2" y1="895.2" y2="895.2" stroke="#333" stroke-width="1"/>
<text class="s" transform="translate(51.8,898.6) scale(0.78,1)" font-size="10.3" fill="#1a1a1a" stroke="#1a1a1a" stroke-width="0.2" text-anchor="end">8</text>
<line x1="53.6" x2="57.2" y1="863.0" y2="863.0" stroke="#333" stroke-width="1"/>
<text class="s" transform="translate(51.8,866.4) scale(0.78,1)" font-size="10.3" fill="#1a1a1a" stroke="#1a1a1a" stroke-width="0.2" text-anchor="end">10</text>
<line x1="53.6" x2="57.2" y1="830.7" y2="830.7" stroke="#333" stroke-width="1"/>
<text class="s" transform="translate(51.8,834.1) scale(0.78,1)" font-size="10.3" fill="#1a1a1a" stroke="#1a1a1a" stroke-width="0.2" text-anchor="end">12</text>
<line x1="53.6" x2="57.2" y1="798.5" y2="798.5" stroke="#333" stroke-width="1"/>
<text class="s" transform="translate(51.8,801.9) scale(0.78,1)" font-size="10.3" fill="#1a1a1a" stroke="#1a1a1a" stroke-width="0.2" text-anchor="end">14</text>
<line x1="53.6" x2="57.2" y1="766.3" y2="766.3" stroke="#333" stroke-width="1"/>
<text class="s" transform="translate(51.8,769.7) scale(0.78,1)" font-size="10.3" fill="#1a1a1a" stroke="#1a1a1a" stroke-width="0.2" text-anchor="end">16</text>
<line x1="133.4" x2="133.4" y1="927.4" y2="931.0" stroke="#2b2b2b" stroke-width="0.9"/>
<text class="s" transform="translate(133.4,941.7) scale(0.76,1)" font-size="10.4" fill="#1a1a1a" stroke="#1a1a1a" stroke-width="0.2" text-anchor="middle">CCL20</text>
<text transform="translate(139.9,764.3) scale(0.92,1)" font-size="10" font-weight="bold" fill="#444" text-anchor="middle">****</text>
<line x1="273.6" x2="273.6" y1="927.4" y2="931.0" stroke="#2b2b2b" stroke-width="0.9"/>
<text class="s" transform="translate(273.6,941.7) scale(0.76,1)" font-size="10.4" fill="#1a1a1a" stroke="#1a1a1a" stroke-width="0.2" text-anchor="middle">IL6</text>
<text transform="translate(280.1,764.3) scale(0.92,1)" font-size="10" font-weight="bold" fill="#444" text-anchor="middle">*</text>
<line x1="413.2" x2="413.2" y1="927.4" y2="931.0" stroke="#2b2b2b" stroke-width="0.9"/>
<text class="s" transform="translate(413.2,941.7) scale(0.76,1)" font-size="10.4" fill="#1a1a1a" stroke="#1a1a1a" stroke-width="0.2" text-anchor="middle">TLR4</text>
<text transform="translate(419.7,764.3) scale(0.92,1)" font-size="10" font-weight="bold" fill="#444" text-anchor="middle">***</text>
<line x1="552.9" x2="552.9" y1="927.4" y2="931.0" stroke="#2b2b2b" stroke-width="0.9"/>
<text class="s" transform="translate(552.9,941.7) scale(0.76,1)" font-size="10.4" fill="#1a1a1a" stroke="#1a1a1a" stroke-width="0.2" text-anchor="middle">MMP9</text>
<text transform="translate(559.4,764.3) scale(0.92,1)" font-size="10" font-weight="bold" fill="#444" text-anchor="middle">****</text>
<text class="s" transform="translate(40.3,838.6) rotate(-90) scale(1,0.78)" font-size="9.7" fill="#1a1a1a" stroke="#1a1a1a" stroke-width="0.2" text-anchor="middle">Expression</text>
<text class="s" transform="translate(643,758.4) scale(0.76,1)" font-size="10.4" fill="#1a1a1a" stroke="#1a1a1a" stroke-width="0.2">Tag</text>
<ellipse cx="646.8" cy="769.4" rx="4.1" ry="4.9" fill="#e8503a"/>
<ellipse cx="646.8" cy="785.3" rx="4.1" ry="4.9" fill="#4ab8d6"/>
<text class="s" transform="translate(652.9,774.2) scale(0.76,1)" font-size="10.4" fill="#1a1a1a" stroke="#1a1a1a" stroke-width="0.2">SAH</text>
<text class="s" transform="translate(652.9,790.4) scale(0.76,1)" font-size="10.4" fill="#1a1a1a" stroke="#1a1a1a" stroke-width="0.2">Control</text>
</g>
</svg></body></html>
